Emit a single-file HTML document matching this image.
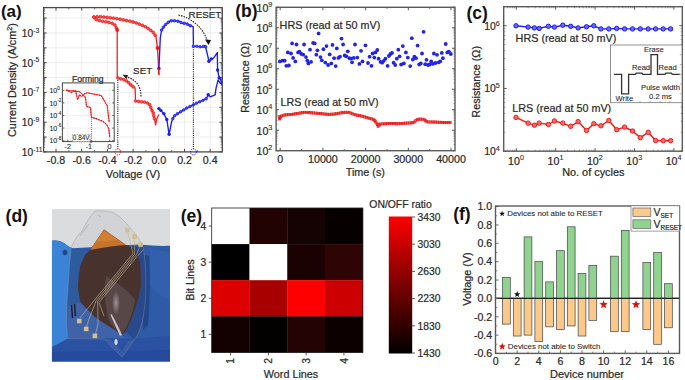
<!DOCTYPE html>
<html><head><meta charset="utf-8"><style>
html,body{margin:0;padding:0;background:#fff;}
svg{display:block;font-family:"Liberation Sans", sans-serif;}
text{stroke:#2a2a2a;stroke-width:0.22px;paint-order:stroke;}
</style></head><body>
<svg width="685" height="380" viewBox="0 0 685 380">
<rect width="685" height="380" fill="#fff"/>
<line x1="56.00" y1="7.60" x2="56.00" y2="151.90" stroke="#cfcfcf" stroke-width="0.8" stroke-dasharray="0.9,1.1"/>
<line x1="81.70" y1="7.60" x2="81.70" y2="151.90" stroke="#cfcfcf" stroke-width="0.8" stroke-dasharray="0.9,1.1"/>
<line x1="107.40" y1="7.60" x2="107.40" y2="151.90" stroke="#cfcfcf" stroke-width="0.8" stroke-dasharray="0.9,1.1"/>
<line x1="133.10" y1="7.60" x2="133.10" y2="151.90" stroke="#cfcfcf" stroke-width="0.8" stroke-dasharray="0.9,1.1"/>
<line x1="158.80" y1="7.60" x2="158.80" y2="151.90" stroke="#cfcfcf" stroke-width="0.8" stroke-dasharray="0.9,1.1"/>
<line x1="184.50" y1="7.60" x2="184.50" y2="151.90" stroke="#cfcfcf" stroke-width="0.8" stroke-dasharray="0.9,1.1"/>
<line x1="210.20" y1="7.60" x2="210.20" y2="151.90" stroke="#cfcfcf" stroke-width="0.8" stroke-dasharray="0.9,1.1"/>
<line x1="43.60" y1="137.03" x2="222.30" y2="137.03" stroke="#cfcfcf" stroke-width="0.8" stroke-dasharray="0.9,1.1"/>
<line x1="43.60" y1="122.16" x2="222.30" y2="122.16" stroke="#cfcfcf" stroke-width="0.8" stroke-dasharray="0.9,1.1"/>
<line x1="43.60" y1="107.29" x2="222.30" y2="107.29" stroke="#cfcfcf" stroke-width="0.8" stroke-dasharray="0.9,1.1"/>
<line x1="43.60" y1="92.42" x2="222.30" y2="92.42" stroke="#cfcfcf" stroke-width="0.8" stroke-dasharray="0.9,1.1"/>
<line x1="43.60" y1="77.55" x2="222.30" y2="77.55" stroke="#cfcfcf" stroke-width="0.8" stroke-dasharray="0.9,1.1"/>
<line x1="43.60" y1="62.68" x2="222.30" y2="62.68" stroke="#cfcfcf" stroke-width="0.8" stroke-dasharray="0.9,1.1"/>
<line x1="43.60" y1="47.81" x2="222.30" y2="47.81" stroke="#cfcfcf" stroke-width="0.8" stroke-dasharray="0.9,1.1"/>
<line x1="43.60" y1="32.94" x2="222.30" y2="32.94" stroke="#cfcfcf" stroke-width="0.8" stroke-dasharray="0.9,1.1"/>
<line x1="43.60" y1="18.07" x2="222.30" y2="18.07" stroke="#cfcfcf" stroke-width="0.8" stroke-dasharray="0.9,1.1"/>
<line x1="56.00" y1="151.90" x2="56.00" y2="148.90" stroke="#4a4a4a" stroke-width="1"/>
<line x1="56.00" y1="7.60" x2="56.00" y2="10.60" stroke="#4a4a4a" stroke-width="1"/>
<line x1="81.70" y1="151.90" x2="81.70" y2="148.90" stroke="#4a4a4a" stroke-width="1"/>
<line x1="81.70" y1="7.60" x2="81.70" y2="10.60" stroke="#4a4a4a" stroke-width="1"/>
<line x1="107.40" y1="151.90" x2="107.40" y2="148.90" stroke="#4a4a4a" stroke-width="1"/>
<line x1="107.40" y1="7.60" x2="107.40" y2="10.60" stroke="#4a4a4a" stroke-width="1"/>
<line x1="133.10" y1="151.90" x2="133.10" y2="148.90" stroke="#4a4a4a" stroke-width="1"/>
<line x1="133.10" y1="7.60" x2="133.10" y2="10.60" stroke="#4a4a4a" stroke-width="1"/>
<line x1="158.80" y1="151.90" x2="158.80" y2="148.90" stroke="#4a4a4a" stroke-width="1"/>
<line x1="158.80" y1="7.60" x2="158.80" y2="10.60" stroke="#4a4a4a" stroke-width="1"/>
<line x1="184.50" y1="151.90" x2="184.50" y2="148.90" stroke="#4a4a4a" stroke-width="1"/>
<line x1="184.50" y1="7.60" x2="184.50" y2="10.60" stroke="#4a4a4a" stroke-width="1"/>
<line x1="210.20" y1="151.90" x2="210.20" y2="148.90" stroke="#4a4a4a" stroke-width="1"/>
<line x1="210.20" y1="7.60" x2="210.20" y2="10.60" stroke="#4a4a4a" stroke-width="1"/>
<line x1="68.85" y1="151.90" x2="68.85" y2="150.10" stroke="#4a4a4a" stroke-width="0.8"/>
<line x1="68.85" y1="7.60" x2="68.85" y2="9.40" stroke="#4a4a4a" stroke-width="0.8"/>
<line x1="94.55" y1="151.90" x2="94.55" y2="150.10" stroke="#4a4a4a" stroke-width="0.8"/>
<line x1="94.55" y1="7.60" x2="94.55" y2="9.40" stroke="#4a4a4a" stroke-width="0.8"/>
<line x1="120.25" y1="151.90" x2="120.25" y2="150.10" stroke="#4a4a4a" stroke-width="0.8"/>
<line x1="120.25" y1="7.60" x2="120.25" y2="9.40" stroke="#4a4a4a" stroke-width="0.8"/>
<line x1="145.95" y1="151.90" x2="145.95" y2="150.10" stroke="#4a4a4a" stroke-width="0.8"/>
<line x1="145.95" y1="7.60" x2="145.95" y2="9.40" stroke="#4a4a4a" stroke-width="0.8"/>
<line x1="171.65" y1="151.90" x2="171.65" y2="150.10" stroke="#4a4a4a" stroke-width="0.8"/>
<line x1="171.65" y1="7.60" x2="171.65" y2="9.40" stroke="#4a4a4a" stroke-width="0.8"/>
<line x1="197.35" y1="151.90" x2="197.35" y2="150.10" stroke="#4a4a4a" stroke-width="0.8"/>
<line x1="197.35" y1="7.60" x2="197.35" y2="9.40" stroke="#4a4a4a" stroke-width="0.8"/>
<line x1="43.60" y1="151.90" x2="46.60" y2="151.90" stroke="#4a4a4a" stroke-width="1"/>
<line x1="222.30" y1="151.90" x2="219.30" y2="151.90" stroke="#4a4a4a" stroke-width="1"/>
<line x1="43.60" y1="147.42" x2="45.20" y2="147.42" stroke="#4a4a4a" stroke-width="0.6"/>
<line x1="222.30" y1="147.42" x2="220.70" y2="147.42" stroke="#4a4a4a" stroke-width="0.6"/>
<line x1="43.60" y1="144.81" x2="45.20" y2="144.81" stroke="#4a4a4a" stroke-width="0.6"/>
<line x1="222.30" y1="144.81" x2="220.70" y2="144.81" stroke="#4a4a4a" stroke-width="0.6"/>
<line x1="43.60" y1="142.95" x2="45.20" y2="142.95" stroke="#4a4a4a" stroke-width="0.6"/>
<line x1="222.30" y1="142.95" x2="220.70" y2="142.95" stroke="#4a4a4a" stroke-width="0.6"/>
<line x1="43.60" y1="141.51" x2="45.20" y2="141.51" stroke="#4a4a4a" stroke-width="0.6"/>
<line x1="222.30" y1="141.51" x2="220.70" y2="141.51" stroke="#4a4a4a" stroke-width="0.6"/>
<line x1="43.60" y1="140.33" x2="45.20" y2="140.33" stroke="#4a4a4a" stroke-width="0.6"/>
<line x1="222.30" y1="140.33" x2="220.70" y2="140.33" stroke="#4a4a4a" stroke-width="0.6"/>
<line x1="43.60" y1="139.33" x2="45.20" y2="139.33" stroke="#4a4a4a" stroke-width="0.6"/>
<line x1="222.30" y1="139.33" x2="220.70" y2="139.33" stroke="#4a4a4a" stroke-width="0.6"/>
<line x1="43.60" y1="138.47" x2="45.20" y2="138.47" stroke="#4a4a4a" stroke-width="0.6"/>
<line x1="222.30" y1="138.47" x2="220.70" y2="138.47" stroke="#4a4a4a" stroke-width="0.6"/>
<line x1="43.60" y1="137.71" x2="45.20" y2="137.71" stroke="#4a4a4a" stroke-width="0.6"/>
<line x1="222.30" y1="137.71" x2="220.70" y2="137.71" stroke="#4a4a4a" stroke-width="0.6"/>
<line x1="43.60" y1="137.03" x2="46.60" y2="137.03" stroke="#4a4a4a" stroke-width="1"/>
<line x1="222.30" y1="137.03" x2="219.30" y2="137.03" stroke="#4a4a4a" stroke-width="1"/>
<line x1="43.60" y1="132.55" x2="45.20" y2="132.55" stroke="#4a4a4a" stroke-width="0.6"/>
<line x1="222.30" y1="132.55" x2="220.70" y2="132.55" stroke="#4a4a4a" stroke-width="0.6"/>
<line x1="43.60" y1="129.94" x2="45.20" y2="129.94" stroke="#4a4a4a" stroke-width="0.6"/>
<line x1="222.30" y1="129.94" x2="220.70" y2="129.94" stroke="#4a4a4a" stroke-width="0.6"/>
<line x1="43.60" y1="128.08" x2="45.20" y2="128.08" stroke="#4a4a4a" stroke-width="0.6"/>
<line x1="222.30" y1="128.08" x2="220.70" y2="128.08" stroke="#4a4a4a" stroke-width="0.6"/>
<line x1="43.60" y1="126.64" x2="45.20" y2="126.64" stroke="#4a4a4a" stroke-width="0.6"/>
<line x1="222.30" y1="126.64" x2="220.70" y2="126.64" stroke="#4a4a4a" stroke-width="0.6"/>
<line x1="43.60" y1="125.46" x2="45.20" y2="125.46" stroke="#4a4a4a" stroke-width="0.6"/>
<line x1="222.30" y1="125.46" x2="220.70" y2="125.46" stroke="#4a4a4a" stroke-width="0.6"/>
<line x1="43.60" y1="124.46" x2="45.20" y2="124.46" stroke="#4a4a4a" stroke-width="0.6"/>
<line x1="222.30" y1="124.46" x2="220.70" y2="124.46" stroke="#4a4a4a" stroke-width="0.6"/>
<line x1="43.60" y1="123.60" x2="45.20" y2="123.60" stroke="#4a4a4a" stroke-width="0.6"/>
<line x1="222.30" y1="123.60" x2="220.70" y2="123.60" stroke="#4a4a4a" stroke-width="0.6"/>
<line x1="43.60" y1="122.84" x2="45.20" y2="122.84" stroke="#4a4a4a" stroke-width="0.6"/>
<line x1="222.30" y1="122.84" x2="220.70" y2="122.84" stroke="#4a4a4a" stroke-width="0.6"/>
<line x1="43.60" y1="122.16" x2="46.60" y2="122.16" stroke="#4a4a4a" stroke-width="1"/>
<line x1="222.30" y1="122.16" x2="219.30" y2="122.16" stroke="#4a4a4a" stroke-width="1"/>
<line x1="43.60" y1="117.68" x2="45.20" y2="117.68" stroke="#4a4a4a" stroke-width="0.6"/>
<line x1="222.30" y1="117.68" x2="220.70" y2="117.68" stroke="#4a4a4a" stroke-width="0.6"/>
<line x1="43.60" y1="115.07" x2="45.20" y2="115.07" stroke="#4a4a4a" stroke-width="0.6"/>
<line x1="222.30" y1="115.07" x2="220.70" y2="115.07" stroke="#4a4a4a" stroke-width="0.6"/>
<line x1="43.60" y1="113.21" x2="45.20" y2="113.21" stroke="#4a4a4a" stroke-width="0.6"/>
<line x1="222.30" y1="113.21" x2="220.70" y2="113.21" stroke="#4a4a4a" stroke-width="0.6"/>
<line x1="43.60" y1="111.77" x2="45.20" y2="111.77" stroke="#4a4a4a" stroke-width="0.6"/>
<line x1="222.30" y1="111.77" x2="220.70" y2="111.77" stroke="#4a4a4a" stroke-width="0.6"/>
<line x1="43.60" y1="110.59" x2="45.20" y2="110.59" stroke="#4a4a4a" stroke-width="0.6"/>
<line x1="222.30" y1="110.59" x2="220.70" y2="110.59" stroke="#4a4a4a" stroke-width="0.6"/>
<line x1="43.60" y1="109.59" x2="45.20" y2="109.59" stroke="#4a4a4a" stroke-width="0.6"/>
<line x1="222.30" y1="109.59" x2="220.70" y2="109.59" stroke="#4a4a4a" stroke-width="0.6"/>
<line x1="43.60" y1="108.73" x2="45.20" y2="108.73" stroke="#4a4a4a" stroke-width="0.6"/>
<line x1="222.30" y1="108.73" x2="220.70" y2="108.73" stroke="#4a4a4a" stroke-width="0.6"/>
<line x1="43.60" y1="107.97" x2="45.20" y2="107.97" stroke="#4a4a4a" stroke-width="0.6"/>
<line x1="222.30" y1="107.97" x2="220.70" y2="107.97" stroke="#4a4a4a" stroke-width="0.6"/>
<line x1="43.60" y1="107.29" x2="46.60" y2="107.29" stroke="#4a4a4a" stroke-width="1"/>
<line x1="222.30" y1="107.29" x2="219.30" y2="107.29" stroke="#4a4a4a" stroke-width="1"/>
<line x1="43.60" y1="102.81" x2="45.20" y2="102.81" stroke="#4a4a4a" stroke-width="0.6"/>
<line x1="222.30" y1="102.81" x2="220.70" y2="102.81" stroke="#4a4a4a" stroke-width="0.6"/>
<line x1="43.60" y1="100.20" x2="45.20" y2="100.20" stroke="#4a4a4a" stroke-width="0.6"/>
<line x1="222.30" y1="100.20" x2="220.70" y2="100.20" stroke="#4a4a4a" stroke-width="0.6"/>
<line x1="43.60" y1="98.34" x2="45.20" y2="98.34" stroke="#4a4a4a" stroke-width="0.6"/>
<line x1="222.30" y1="98.34" x2="220.70" y2="98.34" stroke="#4a4a4a" stroke-width="0.6"/>
<line x1="43.60" y1="96.90" x2="45.20" y2="96.90" stroke="#4a4a4a" stroke-width="0.6"/>
<line x1="222.30" y1="96.90" x2="220.70" y2="96.90" stroke="#4a4a4a" stroke-width="0.6"/>
<line x1="43.60" y1="95.72" x2="45.20" y2="95.72" stroke="#4a4a4a" stroke-width="0.6"/>
<line x1="222.30" y1="95.72" x2="220.70" y2="95.72" stroke="#4a4a4a" stroke-width="0.6"/>
<line x1="43.60" y1="94.72" x2="45.20" y2="94.72" stroke="#4a4a4a" stroke-width="0.6"/>
<line x1="222.30" y1="94.72" x2="220.70" y2="94.72" stroke="#4a4a4a" stroke-width="0.6"/>
<line x1="43.60" y1="93.86" x2="45.20" y2="93.86" stroke="#4a4a4a" stroke-width="0.6"/>
<line x1="222.30" y1="93.86" x2="220.70" y2="93.86" stroke="#4a4a4a" stroke-width="0.6"/>
<line x1="43.60" y1="93.10" x2="45.20" y2="93.10" stroke="#4a4a4a" stroke-width="0.6"/>
<line x1="222.30" y1="93.10" x2="220.70" y2="93.10" stroke="#4a4a4a" stroke-width="0.6"/>
<line x1="43.60" y1="92.42" x2="46.60" y2="92.42" stroke="#4a4a4a" stroke-width="1"/>
<line x1="222.30" y1="92.42" x2="219.30" y2="92.42" stroke="#4a4a4a" stroke-width="1"/>
<line x1="43.60" y1="87.94" x2="45.20" y2="87.94" stroke="#4a4a4a" stroke-width="0.6"/>
<line x1="222.30" y1="87.94" x2="220.70" y2="87.94" stroke="#4a4a4a" stroke-width="0.6"/>
<line x1="43.60" y1="85.33" x2="45.20" y2="85.33" stroke="#4a4a4a" stroke-width="0.6"/>
<line x1="222.30" y1="85.33" x2="220.70" y2="85.33" stroke="#4a4a4a" stroke-width="0.6"/>
<line x1="43.60" y1="83.47" x2="45.20" y2="83.47" stroke="#4a4a4a" stroke-width="0.6"/>
<line x1="222.30" y1="83.47" x2="220.70" y2="83.47" stroke="#4a4a4a" stroke-width="0.6"/>
<line x1="43.60" y1="82.03" x2="45.20" y2="82.03" stroke="#4a4a4a" stroke-width="0.6"/>
<line x1="222.30" y1="82.03" x2="220.70" y2="82.03" stroke="#4a4a4a" stroke-width="0.6"/>
<line x1="43.60" y1="80.85" x2="45.20" y2="80.85" stroke="#4a4a4a" stroke-width="0.6"/>
<line x1="222.30" y1="80.85" x2="220.70" y2="80.85" stroke="#4a4a4a" stroke-width="0.6"/>
<line x1="43.60" y1="79.85" x2="45.20" y2="79.85" stroke="#4a4a4a" stroke-width="0.6"/>
<line x1="222.30" y1="79.85" x2="220.70" y2="79.85" stroke="#4a4a4a" stroke-width="0.6"/>
<line x1="43.60" y1="78.99" x2="45.20" y2="78.99" stroke="#4a4a4a" stroke-width="0.6"/>
<line x1="222.30" y1="78.99" x2="220.70" y2="78.99" stroke="#4a4a4a" stroke-width="0.6"/>
<line x1="43.60" y1="78.23" x2="45.20" y2="78.23" stroke="#4a4a4a" stroke-width="0.6"/>
<line x1="222.30" y1="78.23" x2="220.70" y2="78.23" stroke="#4a4a4a" stroke-width="0.6"/>
<line x1="43.60" y1="77.55" x2="46.60" y2="77.55" stroke="#4a4a4a" stroke-width="1"/>
<line x1="222.30" y1="77.55" x2="219.30" y2="77.55" stroke="#4a4a4a" stroke-width="1"/>
<line x1="43.60" y1="73.07" x2="45.20" y2="73.07" stroke="#4a4a4a" stroke-width="0.6"/>
<line x1="222.30" y1="73.07" x2="220.70" y2="73.07" stroke="#4a4a4a" stroke-width="0.6"/>
<line x1="43.60" y1="70.46" x2="45.20" y2="70.46" stroke="#4a4a4a" stroke-width="0.6"/>
<line x1="222.30" y1="70.46" x2="220.70" y2="70.46" stroke="#4a4a4a" stroke-width="0.6"/>
<line x1="43.60" y1="68.60" x2="45.20" y2="68.60" stroke="#4a4a4a" stroke-width="0.6"/>
<line x1="222.30" y1="68.60" x2="220.70" y2="68.60" stroke="#4a4a4a" stroke-width="0.6"/>
<line x1="43.60" y1="67.16" x2="45.20" y2="67.16" stroke="#4a4a4a" stroke-width="0.6"/>
<line x1="222.30" y1="67.16" x2="220.70" y2="67.16" stroke="#4a4a4a" stroke-width="0.6"/>
<line x1="43.60" y1="65.98" x2="45.20" y2="65.98" stroke="#4a4a4a" stroke-width="0.6"/>
<line x1="222.30" y1="65.98" x2="220.70" y2="65.98" stroke="#4a4a4a" stroke-width="0.6"/>
<line x1="43.60" y1="64.98" x2="45.20" y2="64.98" stroke="#4a4a4a" stroke-width="0.6"/>
<line x1="222.30" y1="64.98" x2="220.70" y2="64.98" stroke="#4a4a4a" stroke-width="0.6"/>
<line x1="43.60" y1="64.12" x2="45.20" y2="64.12" stroke="#4a4a4a" stroke-width="0.6"/>
<line x1="222.30" y1="64.12" x2="220.70" y2="64.12" stroke="#4a4a4a" stroke-width="0.6"/>
<line x1="43.60" y1="63.36" x2="45.20" y2="63.36" stroke="#4a4a4a" stroke-width="0.6"/>
<line x1="222.30" y1="63.36" x2="220.70" y2="63.36" stroke="#4a4a4a" stroke-width="0.6"/>
<line x1="43.60" y1="62.68" x2="46.60" y2="62.68" stroke="#4a4a4a" stroke-width="1"/>
<line x1="222.30" y1="62.68" x2="219.30" y2="62.68" stroke="#4a4a4a" stroke-width="1"/>
<line x1="43.60" y1="58.20" x2="45.20" y2="58.20" stroke="#4a4a4a" stroke-width="0.6"/>
<line x1="222.30" y1="58.20" x2="220.70" y2="58.20" stroke="#4a4a4a" stroke-width="0.6"/>
<line x1="43.60" y1="55.59" x2="45.20" y2="55.59" stroke="#4a4a4a" stroke-width="0.6"/>
<line x1="222.30" y1="55.59" x2="220.70" y2="55.59" stroke="#4a4a4a" stroke-width="0.6"/>
<line x1="43.60" y1="53.73" x2="45.20" y2="53.73" stroke="#4a4a4a" stroke-width="0.6"/>
<line x1="222.30" y1="53.73" x2="220.70" y2="53.73" stroke="#4a4a4a" stroke-width="0.6"/>
<line x1="43.60" y1="52.29" x2="45.20" y2="52.29" stroke="#4a4a4a" stroke-width="0.6"/>
<line x1="222.30" y1="52.29" x2="220.70" y2="52.29" stroke="#4a4a4a" stroke-width="0.6"/>
<line x1="43.60" y1="51.11" x2="45.20" y2="51.11" stroke="#4a4a4a" stroke-width="0.6"/>
<line x1="222.30" y1="51.11" x2="220.70" y2="51.11" stroke="#4a4a4a" stroke-width="0.6"/>
<line x1="43.60" y1="50.11" x2="45.20" y2="50.11" stroke="#4a4a4a" stroke-width="0.6"/>
<line x1="222.30" y1="50.11" x2="220.70" y2="50.11" stroke="#4a4a4a" stroke-width="0.6"/>
<line x1="43.60" y1="49.25" x2="45.20" y2="49.25" stroke="#4a4a4a" stroke-width="0.6"/>
<line x1="222.30" y1="49.25" x2="220.70" y2="49.25" stroke="#4a4a4a" stroke-width="0.6"/>
<line x1="43.60" y1="48.49" x2="45.20" y2="48.49" stroke="#4a4a4a" stroke-width="0.6"/>
<line x1="222.30" y1="48.49" x2="220.70" y2="48.49" stroke="#4a4a4a" stroke-width="0.6"/>
<line x1="43.60" y1="47.81" x2="46.60" y2="47.81" stroke="#4a4a4a" stroke-width="1"/>
<line x1="222.30" y1="47.81" x2="219.30" y2="47.81" stroke="#4a4a4a" stroke-width="1"/>
<line x1="43.60" y1="43.33" x2="45.20" y2="43.33" stroke="#4a4a4a" stroke-width="0.6"/>
<line x1="222.30" y1="43.33" x2="220.70" y2="43.33" stroke="#4a4a4a" stroke-width="0.6"/>
<line x1="43.60" y1="40.72" x2="45.20" y2="40.72" stroke="#4a4a4a" stroke-width="0.6"/>
<line x1="222.30" y1="40.72" x2="220.70" y2="40.72" stroke="#4a4a4a" stroke-width="0.6"/>
<line x1="43.60" y1="38.86" x2="45.20" y2="38.86" stroke="#4a4a4a" stroke-width="0.6"/>
<line x1="222.30" y1="38.86" x2="220.70" y2="38.86" stroke="#4a4a4a" stroke-width="0.6"/>
<line x1="43.60" y1="37.42" x2="45.20" y2="37.42" stroke="#4a4a4a" stroke-width="0.6"/>
<line x1="222.30" y1="37.42" x2="220.70" y2="37.42" stroke="#4a4a4a" stroke-width="0.6"/>
<line x1="43.60" y1="36.24" x2="45.20" y2="36.24" stroke="#4a4a4a" stroke-width="0.6"/>
<line x1="222.30" y1="36.24" x2="220.70" y2="36.24" stroke="#4a4a4a" stroke-width="0.6"/>
<line x1="43.60" y1="35.24" x2="45.20" y2="35.24" stroke="#4a4a4a" stroke-width="0.6"/>
<line x1="222.30" y1="35.24" x2="220.70" y2="35.24" stroke="#4a4a4a" stroke-width="0.6"/>
<line x1="43.60" y1="34.38" x2="45.20" y2="34.38" stroke="#4a4a4a" stroke-width="0.6"/>
<line x1="222.30" y1="34.38" x2="220.70" y2="34.38" stroke="#4a4a4a" stroke-width="0.6"/>
<line x1="43.60" y1="33.62" x2="45.20" y2="33.62" stroke="#4a4a4a" stroke-width="0.6"/>
<line x1="222.30" y1="33.62" x2="220.70" y2="33.62" stroke="#4a4a4a" stroke-width="0.6"/>
<line x1="43.60" y1="32.94" x2="46.60" y2="32.94" stroke="#4a4a4a" stroke-width="1"/>
<line x1="222.30" y1="32.94" x2="219.30" y2="32.94" stroke="#4a4a4a" stroke-width="1"/>
<line x1="43.60" y1="28.46" x2="45.20" y2="28.46" stroke="#4a4a4a" stroke-width="0.6"/>
<line x1="222.30" y1="28.46" x2="220.70" y2="28.46" stroke="#4a4a4a" stroke-width="0.6"/>
<line x1="43.60" y1="25.85" x2="45.20" y2="25.85" stroke="#4a4a4a" stroke-width="0.6"/>
<line x1="222.30" y1="25.85" x2="220.70" y2="25.85" stroke="#4a4a4a" stroke-width="0.6"/>
<line x1="43.60" y1="23.99" x2="45.20" y2="23.99" stroke="#4a4a4a" stroke-width="0.6"/>
<line x1="222.30" y1="23.99" x2="220.70" y2="23.99" stroke="#4a4a4a" stroke-width="0.6"/>
<line x1="43.60" y1="22.55" x2="45.20" y2="22.55" stroke="#4a4a4a" stroke-width="0.6"/>
<line x1="222.30" y1="22.55" x2="220.70" y2="22.55" stroke="#4a4a4a" stroke-width="0.6"/>
<line x1="43.60" y1="21.37" x2="45.20" y2="21.37" stroke="#4a4a4a" stroke-width="0.6"/>
<line x1="222.30" y1="21.37" x2="220.70" y2="21.37" stroke="#4a4a4a" stroke-width="0.6"/>
<line x1="43.60" y1="20.37" x2="45.20" y2="20.37" stroke="#4a4a4a" stroke-width="0.6"/>
<line x1="222.30" y1="20.37" x2="220.70" y2="20.37" stroke="#4a4a4a" stroke-width="0.6"/>
<line x1="43.60" y1="19.51" x2="45.20" y2="19.51" stroke="#4a4a4a" stroke-width="0.6"/>
<line x1="222.30" y1="19.51" x2="220.70" y2="19.51" stroke="#4a4a4a" stroke-width="0.6"/>
<line x1="43.60" y1="18.75" x2="45.20" y2="18.75" stroke="#4a4a4a" stroke-width="0.6"/>
<line x1="222.30" y1="18.75" x2="220.70" y2="18.75" stroke="#4a4a4a" stroke-width="0.6"/>
<line x1="43.60" y1="18.07" x2="46.60" y2="18.07" stroke="#4a4a4a" stroke-width="1"/>
<line x1="222.30" y1="18.07" x2="219.30" y2="18.07" stroke="#4a4a4a" stroke-width="1"/>
<line x1="43.60" y1="13.59" x2="45.20" y2="13.59" stroke="#4a4a4a" stroke-width="0.6"/>
<line x1="222.30" y1="13.59" x2="220.70" y2="13.59" stroke="#4a4a4a" stroke-width="0.6"/>
<line x1="43.60" y1="10.98" x2="45.20" y2="10.98" stroke="#4a4a4a" stroke-width="0.6"/>
<line x1="222.30" y1="10.98" x2="220.70" y2="10.98" stroke="#4a4a4a" stroke-width="0.6"/>
<line x1="43.60" y1="9.12" x2="45.20" y2="9.12" stroke="#4a4a4a" stroke-width="0.6"/>
<line x1="222.30" y1="9.12" x2="220.70" y2="9.12" stroke="#4a4a4a" stroke-width="0.6"/>
<rect x="43.60" y="7.60" width="178.70" height="144.30" fill="none" stroke="#4a4a4a" stroke-width="1.3"/>
<text x="56.00" y="163.50" font-size="10.6" text-anchor="middle" fill="#2a2a2a">-0.8</text>
<text x="81.70" y="163.50" font-size="10.6" text-anchor="middle" fill="#2a2a2a">-0.6</text>
<text x="107.40" y="163.50" font-size="10.6" text-anchor="middle" fill="#2a2a2a">-0.4</text>
<text x="133.10" y="163.50" font-size="10.6" text-anchor="middle" fill="#2a2a2a">-0.2</text>
<text x="158.80" y="163.50" font-size="10.6" text-anchor="middle" fill="#2a2a2a">0.0</text>
<text x="184.50" y="163.50" font-size="10.6" text-anchor="middle" fill="#2a2a2a">0.2</text>
<text x="210.20" y="163.50" font-size="10.6" text-anchor="middle" fill="#2a2a2a">0.4</text>
<text x="33.20" y="36.84" font-size="10.2" text-anchor="end" fill="#2a2a2a">10</text>
<text x="33.20" y="32.64" font-size="6.8" text-anchor="start" fill="#2a2a2a" style="stroke-width:0.1px">-3</text>
<text x="33.20" y="66.58" font-size="10.2" text-anchor="end" fill="#2a2a2a">10</text>
<text x="33.20" y="62.38" font-size="6.8" text-anchor="start" fill="#2a2a2a" style="stroke-width:0.1px">-5</text>
<text x="33.20" y="96.32" font-size="10.2" text-anchor="end" fill="#2a2a2a">10</text>
<text x="33.20" y="92.12" font-size="6.8" text-anchor="start" fill="#2a2a2a" style="stroke-width:0.1px">-7</text>
<text x="33.20" y="126.06" font-size="10.2" text-anchor="end" fill="#2a2a2a">10</text>
<text x="33.20" y="121.86" font-size="6.8" text-anchor="start" fill="#2a2a2a" style="stroke-width:0.1px">-9</text>
<text x="33.20" y="155.80" font-size="10.2" text-anchor="end" fill="#2a2a2a">10</text>
<text x="33.20" y="151.60" font-size="6.8" text-anchor="start" fill="#2a2a2a" style="stroke-width:0.1px">-11</text>
<text x="133.00" y="177.80" font-size="11" text-anchor="middle" fill="#2a2a2a">Voltage (V)</text>
<text x="16.30" y="80.00" font-size="10.8" text-anchor="middle" fill="#2a2a2a" transform="rotate(-90 16.30 80.00)">Current Density (A/cm<tspan dy="-4" font-size="7.3">2</tspan><tspan dy="4">)</tspan></text>
<text x="0.90" y="17.30" font-size="17" text-anchor="start" fill="#111" font-weight="bold" style="stroke-width:0px">(a)</text>
<polyline points="93.90,17.10 98.20,16.60 104.70,17.10 111.30,17.90 117.90,18.80 124.50,20.10 131.00,21.40 137.60,23.40 144.20,26.10 149.50,29.30 153.40,32.60 156.00,36.60 157.40,47.80 158.20,60.00 158.80,75.00" fill="none" stroke="#f01818" stroke-width="1.25" stroke-linejoin="round"/>
<polyline points="93.90,17.10 96.20,19.50 100.80,21.00 107.40,22.10 112.60,23.40 115.30,25.40 117.20,30.00 117.20,78.00" fill="none" stroke="#f01818" stroke-width="1.25" stroke-linejoin="round"/>
<polyline points="117.20,78.00 118.00,78.00 120.50,78.80 124.00,79.70 127.40,81.40 129.90,84.00 132.50,86.50 134.20,87.40 135.10,88.00 135.50,101.00 139.30,101.60 143.60,101.90 147.00,102.80 149.60,104.50 151.30,108.80 153.00,112.20 154.70,119.90 155.60,125.00 156.90,118.50 158.90,114.50" fill="none" stroke="#f01818" stroke-width="1.25" stroke-linejoin="round"/>
<circle cx="93.90" cy="17.10" r="1.4" fill="#ff5a5a" stroke="#f01818" stroke-width="0.8"/>
<circle cx="97.18" cy="16.72" r="1.4" fill="#ff5a5a" stroke="#f01818" stroke-width="0.8"/>
<circle cx="100.46" cy="16.77" r="1.4" fill="#ff5a5a" stroke="#f01818" stroke-width="0.8"/>
<circle cx="103.75" cy="17.03" r="1.4" fill="#ff5a5a" stroke="#f01818" stroke-width="0.8"/>
<circle cx="107.03" cy="17.38" r="1.4" fill="#ff5a5a" stroke="#f01818" stroke-width="0.8"/>
<circle cx="110.31" cy="17.78" r="1.4" fill="#ff5a5a" stroke="#f01818" stroke-width="0.8"/>
<circle cx="113.58" cy="18.21" r="1.4" fill="#ff5a5a" stroke="#f01818" stroke-width="0.8"/>
<circle cx="116.85" cy="18.66" r="1.4" fill="#ff5a5a" stroke="#f01818" stroke-width="0.8"/>
<circle cx="120.10" cy="19.23" r="1.4" fill="#ff5a5a" stroke="#f01818" stroke-width="0.8"/>
<circle cx="123.34" cy="19.87" r="1.4" fill="#ff5a5a" stroke="#f01818" stroke-width="0.8"/>
<circle cx="126.57" cy="20.51" r="1.4" fill="#ff5a5a" stroke="#f01818" stroke-width="0.8"/>
<circle cx="129.81" cy="21.16" r="1.4" fill="#ff5a5a" stroke="#f01818" stroke-width="0.8"/>
<circle cx="133.00" cy="22.01" r="1.4" fill="#ff5a5a" stroke="#f01818" stroke-width="0.8"/>
<circle cx="136.16" cy="22.96" r="1.4" fill="#ff5a5a" stroke="#f01818" stroke-width="0.8"/>
<circle cx="139.26" cy="24.08" r="1.4" fill="#ff5a5a" stroke="#f01818" stroke-width="0.8"/>
<circle cx="142.31" cy="25.33" r="1.4" fill="#ff5a5a" stroke="#f01818" stroke-width="0.8"/>
<circle cx="145.28" cy="26.75" r="1.4" fill="#ff5a5a" stroke="#f01818" stroke-width="0.8"/>
<circle cx="148.10" cy="28.46" r="1.4" fill="#ff5a5a" stroke="#f01818" stroke-width="0.8"/>
<circle cx="150.77" cy="30.38" r="1.4" fill="#ff5a5a" stroke="#f01818" stroke-width="0.8"/>
<circle cx="153.29" cy="32.51" r="1.4" fill="#ff5a5a" stroke="#f01818" stroke-width="0.8"/>
<circle cx="155.12" cy="35.25" r="1.4" fill="#ff5a5a" stroke="#f01818" stroke-width="0.8"/>
<circle cx="93.90" cy="17.10" r="1.4" fill="#ff5a5a" stroke="#f01818" stroke-width="0.8"/>
<circle cx="96.18" cy="19.48" r="1.4" fill="#ff5a5a" stroke="#f01818" stroke-width="0.8"/>
<circle cx="99.31" cy="20.52" r="1.4" fill="#ff5a5a" stroke="#f01818" stroke-width="0.8"/>
<circle cx="102.51" cy="21.29" r="1.4" fill="#ff5a5a" stroke="#f01818" stroke-width="0.8"/>
<circle cx="105.77" cy="21.83" r="1.4" fill="#ff5a5a" stroke="#f01818" stroke-width="0.8"/>
<circle cx="109.00" cy="22.50" r="1.4" fill="#ff5a5a" stroke="#f01818" stroke-width="0.8"/>
<circle cx="112.20" cy="23.30" r="1.4" fill="#ff5a5a" stroke="#f01818" stroke-width="0.8"/>
<circle cx="114.92" cy="25.12" r="1.4" fill="#ff5a5a" stroke="#f01818" stroke-width="0.8"/>
<circle cx="116.38" cy="28.01" r="1.4" fill="#ff5a5a" stroke="#f01818" stroke-width="0.8"/>
<circle cx="118.00" cy="78.00" r="1.35" fill="#ff5a5a" stroke="#f01818" stroke-width="0.8"/>
<circle cx="120.86" cy="78.89" r="1.35" fill="#ff5a5a" stroke="#f01818" stroke-width="0.8"/>
<circle cx="123.77" cy="79.64" r="1.35" fill="#ff5a5a" stroke="#f01818" stroke-width="0.8"/>
<circle cx="126.47" cy="80.93" r="1.35" fill="#ff5a5a" stroke="#f01818" stroke-width="0.8"/>
<circle cx="128.76" cy="82.81" r="1.35" fill="#ff5a5a" stroke="#f01818" stroke-width="0.8"/>
<circle cx="130.88" cy="84.94" r="1.35" fill="#ff5a5a" stroke="#f01818" stroke-width="0.8"/>
<circle cx="133.16" cy="86.85" r="1.35" fill="#ff5a5a" stroke="#f01818" stroke-width="0.8"/>
<circle cx="135.50" cy="101.00" r="1.35" fill="#ff5a5a" stroke="#f01818" stroke-width="0.8"/>
<circle cx="138.46" cy="101.47" r="1.35" fill="#ff5a5a" stroke="#f01818" stroke-width="0.8"/>
<circle cx="141.45" cy="101.75" r="1.35" fill="#ff5a5a" stroke="#f01818" stroke-width="0.8"/>
<circle cx="144.41" cy="102.12" r="1.35" fill="#ff5a5a" stroke="#f01818" stroke-width="0.8"/>
<circle cx="147.27" cy="102.98" r="1.35" fill="#ff5a5a" stroke="#f01818" stroke-width="0.8"/>
<circle cx="149.68" cy="104.70" r="1.35" fill="#ff5a5a" stroke="#f01818" stroke-width="0.8"/>
<circle cx="150.78" cy="107.49" r="1.35" fill="#ff5a5a" stroke="#f01818" stroke-width="0.8"/>
<circle cx="152.01" cy="110.23" r="1.35" fill="#ff5a5a" stroke="#f01818" stroke-width="0.8"/>
<circle cx="153.17" cy="112.98" r="1.35" fill="#ff5a5a" stroke="#f01818" stroke-width="0.8"/>
<circle cx="153.82" cy="115.90" r="1.35" fill="#ff5a5a" stroke="#f01818" stroke-width="0.8"/>
<circle cx="154.46" cy="118.83" r="1.35" fill="#ff5a5a" stroke="#f01818" stroke-width="0.8"/>
<circle cx="157.60" cy="48.00" r="1.9" fill="#f01818" stroke="none" stroke-width="0.8"/>
<circle cx="117.20" cy="30.00" r="1.9" fill="#f01818" stroke="none" stroke-width="0.8"/>
<polyline points="158.90,68.50 159.30,60.00 160.30,37.90 161.60,30.00 164.20,26.00 166.80,23.40 169.50,21.40 172.10,20.50 176.00,21.00 179.30,21.40 182.60,23.40 185.90,23.20 188.60,25.00 191.20,26.00 193.20,26.70 193.40,46.30 197.90,46.30 201.80,47.10 205.30,45.50 206.20,49.50 208.10,57.40 208.90,61.30 211.30,58.90 213.60,58.10 217.30,52.60 217.60,70.00 219.20,77.90 220.70,79.40 221.50,84.20 220.00,83.00 218.10,80.00 217.10,83.90 216.10,87.90 215.10,94.80 210.20,96.80 208.20,94.80 206.20,98.70 202.30,100.70 197.40,102.70 192.40,105.30 187.50,107.60 182.60,110.60 177.60,113.60 173.70,116.50 171.70,121.40 169.10,134.30 166.80,119.50 163.80,113.60 160.90,110.60 158.90,108.60" fill="none" stroke="#1a1aff" stroke-width="1.35" stroke-linejoin="round"/>
<circle cx="161.60" cy="30.00" r="1.2999999999999998" fill="#5050ff" stroke="#1a1aff" stroke-width="0.8"/>
<circle cx="163.45" cy="27.15" r="1.2999999999999998" fill="#5050ff" stroke="#1a1aff" stroke-width="0.8"/>
<circle cx="165.63" cy="24.57" r="1.2999999999999998" fill="#5050ff" stroke="#1a1aff" stroke-width="0.8"/>
<circle cx="168.21" cy="22.36" r="1.2999999999999998" fill="#5050ff" stroke="#1a1aff" stroke-width="0.8"/>
<circle cx="171.19" cy="20.81" r="1.2999999999999998" fill="#5050ff" stroke="#1a1aff" stroke-width="0.8"/>
<circle cx="174.52" cy="20.81" r="1.2999999999999998" fill="#5050ff" stroke="#1a1aff" stroke-width="0.8"/>
<circle cx="177.90" cy="21.23" r="1.2999999999999998" fill="#5050ff" stroke="#1a1aff" stroke-width="0.8"/>
<circle cx="181.00" cy="22.43" r="1.2999999999999998" fill="#5050ff" stroke="#1a1aff" stroke-width="0.8"/>
<circle cx="184.12" cy="23.31" r="1.2999999999999998" fill="#5050ff" stroke="#1a1aff" stroke-width="0.8"/>
<circle cx="187.25" cy="24.10" r="1.2999999999999998" fill="#5050ff" stroke="#1a1aff" stroke-width="0.8"/>
<circle cx="190.26" cy="25.64" r="1.2999999999999998" fill="#5050ff" stroke="#1a1aff" stroke-width="0.8"/>
<circle cx="193.40" cy="46.30" r="1.25" fill="#5050ff" stroke="#1a1aff" stroke-width="0.8"/>
<circle cx="196.80" cy="46.30" r="1.25" fill="#5050ff" stroke="#1a1aff" stroke-width="0.8"/>
<circle cx="200.15" cy="46.76" r="1.25" fill="#5050ff" stroke="#1a1aff" stroke-width="0.8"/>
<circle cx="203.36" cy="46.39" r="1.25" fill="#5050ff" stroke="#1a1aff" stroke-width="0.8"/>
<circle cx="205.58" cy="46.74" r="1.25" fill="#5050ff" stroke="#1a1aff" stroke-width="0.8"/>
<circle cx="206.20" cy="98.70" r="1.25" fill="#5050ff" stroke="#1a1aff" stroke-width="0.8"/>
<circle cx="203.00" cy="100.34" r="1.25" fill="#5050ff" stroke="#1a1aff" stroke-width="0.8"/>
<circle cx="199.69" cy="101.76" r="1.25" fill="#5050ff" stroke="#1a1aff" stroke-width="0.8"/>
<circle cx="196.40" cy="103.22" r="1.25" fill="#5050ff" stroke="#1a1aff" stroke-width="0.8"/>
<circle cx="193.21" cy="104.88" r="1.25" fill="#5050ff" stroke="#1a1aff" stroke-width="0.8"/>
<circle cx="189.97" cy="106.44" r="1.25" fill="#5050ff" stroke="#1a1aff" stroke-width="0.8"/>
<circle cx="186.75" cy="108.06" r="1.25" fill="#5050ff" stroke="#1a1aff" stroke-width="0.8"/>
<circle cx="183.68" cy="109.94" r="1.25" fill="#5050ff" stroke="#1a1aff" stroke-width="0.8"/>
<circle cx="180.60" cy="111.80" r="1.25" fill="#5050ff" stroke="#1a1aff" stroke-width="0.8"/>
<circle cx="177.52" cy="113.66" r="1.25" fill="#5050ff" stroke="#1a1aff" stroke-width="0.8"/>
<circle cx="174.63" cy="115.81" r="1.25" fill="#5050ff" stroke="#1a1aff" stroke-width="0.8"/>
<circle cx="172.78" cy="118.76" r="1.25" fill="#5050ff" stroke="#1a1aff" stroke-width="0.8"/>
<circle cx="158.90" cy="68.50" r="1.7" fill="#1a1aff" stroke="none" stroke-width="0.8"/>
<circle cx="158.90" cy="108.60" r="1.7" fill="#1a1aff" stroke="none" stroke-width="0.8"/>
<circle cx="160.90" cy="110.60" r="1.7" fill="#1a1aff" stroke="none" stroke-width="0.8"/>
<circle cx="163.80" cy="113.60" r="1.7" fill="#1a1aff" stroke="none" stroke-width="0.8"/>
<circle cx="166.80" cy="119.50" r="1.7" fill="#1a1aff" stroke="none" stroke-width="0.8"/>
<circle cx="169.10" cy="134.30" r="1.7" fill="#1a1aff" stroke="none" stroke-width="0.8"/>
<circle cx="208.90" cy="61.30" r="1.7" fill="#1a1aff" stroke="none" stroke-width="0.8"/>
<circle cx="211.30" cy="58.90" r="1.7" fill="#1a1aff" stroke="none" stroke-width="0.8"/>
<circle cx="208.20" cy="94.80" r="1.7" fill="#1a1aff" stroke="none" stroke-width="0.8"/>
<circle cx="217.60" cy="70.00" r="1.7" fill="#1a1aff" stroke="none" stroke-width="0.8"/>
<circle cx="219.20" cy="77.90" r="1.7" fill="#1a1aff" stroke="none" stroke-width="0.8"/>
<line x1="158.90" y1="68.00" x2="158.90" y2="75.00" stroke="#f01818" stroke-width="1.2"/>
<line x1="117.80" y1="80.00" x2="117.80" y2="149.00" stroke="#2a2a2a" stroke-width="1.15" stroke-dasharray="1.1,1.1"/>
<line x1="193.40" y1="47.00" x2="193.40" y2="149.00" stroke="#2a2a2a" stroke-width="1.15" stroke-dasharray="1.1,1.1"/>
<circle cx="117.80" cy="151.90" r="3" fill="none" stroke="#f01818" stroke-width="1.0" stroke-dasharray="1.3,0.9"/>
<circle cx="193.40" cy="151.90" r="3" fill="none" stroke="#1a1aff" stroke-width="1.0" stroke-dasharray="1.3,0.9"/>
<text x="133.10" y="73.80" font-size="9.8" text-anchor="start" fill="#2a2a2a">SET</text>
<path d="M141,96.5 C141,86 136,80 127,77" fill="none" stroke="#222" stroke-width="1.15" stroke-dasharray="1.5,1.1"/>
<path d="M122.5,74.8 L128,75 L126.5,79.2 Z" fill="#222"/>
<text x="188.60" y="18.30" font-size="9.8" text-anchor="start" fill="#2a2a2a">RESET</text>
<path d="M178.5,15 C192,18 203,28 207,40" fill="none" stroke="#222" stroke-width="1.15" stroke-dasharray="1.5,1.1"/>
<path d="M205,39.5 L211,40 L208.5,45 Z" fill="#111"/>
<rect x="62.40" y="82.90" width="51.80" height="58.70" fill="#fff" stroke="none" stroke-width="1"/>
<line x1="67.80" y1="82.90" x2="67.80" y2="141.60" stroke="#cfcfcf" stroke-width="0.7" stroke-dasharray="1,1.5"/>
<line x1="88.70" y1="82.90" x2="88.70" y2="141.60" stroke="#cfcfcf" stroke-width="0.7" stroke-dasharray="1,1.5"/>
<line x1="109.60" y1="82.90" x2="109.60" y2="141.60" stroke="#cfcfcf" stroke-width="0.7" stroke-dasharray="1,1.5"/>
<line x1="62.40" y1="90.30" x2="114.20" y2="90.30" stroke="#cfcfcf" stroke-width="0.7" stroke-dasharray="1,1.5"/>
<line x1="62.40" y1="102.90" x2="114.20" y2="102.90" stroke="#cfcfcf" stroke-width="0.7" stroke-dasharray="1,1.5"/>
<line x1="62.40" y1="115.50" x2="114.20" y2="115.50" stroke="#cfcfcf" stroke-width="0.7" stroke-dasharray="1,1.5"/>
<line x1="62.40" y1="128.10" x2="114.20" y2="128.10" stroke="#cfcfcf" stroke-width="0.7" stroke-dasharray="1,1.5"/>
<line x1="62.40" y1="140.70" x2="114.20" y2="140.70" stroke="#cfcfcf" stroke-width="0.7" stroke-dasharray="1,1.5"/>
<line x1="62.40" y1="90.30" x2="64.40" y2="90.30" stroke="#4a4a4a" stroke-width="0.8"/>
<line x1="114.20" y1="90.30" x2="112.20" y2="90.30" stroke="#4a4a4a" stroke-width="0.8"/>
<line x1="62.40" y1="102.90" x2="64.40" y2="102.90" stroke="#4a4a4a" stroke-width="0.8"/>
<line x1="114.20" y1="102.90" x2="112.20" y2="102.90" stroke="#4a4a4a" stroke-width="0.8"/>
<line x1="62.40" y1="115.50" x2="64.40" y2="115.50" stroke="#4a4a4a" stroke-width="0.8"/>
<line x1="114.20" y1="115.50" x2="112.20" y2="115.50" stroke="#4a4a4a" stroke-width="0.8"/>
<line x1="62.40" y1="128.10" x2="64.40" y2="128.10" stroke="#4a4a4a" stroke-width="0.8"/>
<line x1="114.20" y1="128.10" x2="112.20" y2="128.10" stroke="#4a4a4a" stroke-width="0.8"/>
<line x1="62.40" y1="140.70" x2="64.40" y2="140.70" stroke="#4a4a4a" stroke-width="0.8"/>
<line x1="114.20" y1="140.70" x2="112.20" y2="140.70" stroke="#4a4a4a" stroke-width="0.8"/>
<line x1="67.80" y1="141.60" x2="67.80" y2="139.60" stroke="#4a4a4a" stroke-width="0.8"/>
<line x1="88.70" y1="141.60" x2="88.70" y2="139.60" stroke="#4a4a4a" stroke-width="0.8"/>
<line x1="109.60" y1="141.60" x2="109.60" y2="139.60" stroke="#4a4a4a" stroke-width="0.8"/>
<rect x="62.40" y="82.90" width="51.80" height="58.70" fill="none" stroke="#4a4a4a" stroke-width="1"/>
<text x="57.20" y="92.90" font-size="7" text-anchor="end" fill="#2a2a2a" style="stroke-width:0.1px">10</text>
<text x="57.30" y="89.50" font-size="4.6" text-anchor="start" fill="#2a2a2a" style="stroke-width:0.1px">0</text>
<text x="57.20" y="105.50" font-size="7" text-anchor="end" fill="#2a2a2a" style="stroke-width:0.1px">10</text>
<text x="57.30" y="102.10" font-size="4.6" text-anchor="start" fill="#2a2a2a" style="stroke-width:0.1px">-2</text>
<text x="57.20" y="118.10" font-size="7" text-anchor="end" fill="#2a2a2a" style="stroke-width:0.1px">10</text>
<text x="57.30" y="114.70" font-size="4.6" text-anchor="start" fill="#2a2a2a" style="stroke-width:0.1px">-4</text>
<text x="57.20" y="130.70" font-size="7" text-anchor="end" fill="#2a2a2a" style="stroke-width:0.1px">10</text>
<text x="57.30" y="127.30" font-size="4.6" text-anchor="start" fill="#2a2a2a" style="stroke-width:0.1px">-6</text>
<text x="57.20" y="143.30" font-size="7" text-anchor="end" fill="#2a2a2a" style="stroke-width:0.1px">10</text>
<text x="57.30" y="139.90" font-size="4.6" text-anchor="start" fill="#2a2a2a" style="stroke-width:0.1px">-8</text>
<text x="67.80" y="148.60" font-size="7.2" text-anchor="middle" fill="#2a2a2a" style="stroke-width:0.1px">-2</text>
<text x="88.70" y="148.60" font-size="7.2" text-anchor="middle" fill="#2a2a2a" style="stroke-width:0.1px">-1</text>
<text x="109.60" y="148.60" font-size="7.2" text-anchor="middle" fill="#2a2a2a" style="stroke-width:0.1px">0</text>
<text x="87.80" y="81.80" font-size="8.6" text-anchor="middle" fill="#2a2a2a">Forming</text>
<polyline points="66.80,90.30 69.70,91.70 71.70,92.70 73.50,91.00 75.60,90.70 77.60,99.60 79.60,94.70 81.60,96.60 84.50,93.70 87.50,92.70 91.40,93.70 97.30,94.70 101.30,95.60 105.20,102.50 107.20,105.50 109.20,122.30" fill="none" stroke="#f01818" stroke-width="0.9" stroke-linejoin="round"/>
<polyline points="66.80,90.30 72.00,91.00 76.00,91.30 79.60,91.70 83.50,95.60 85.50,97.60 86.50,106.50 90.40,107.50 91.40,117.30 96.00,118.60 102.60,121.20 106.60,124.50 108.60,128.40 109.90,137.60" fill="none" stroke="#f01818" stroke-width="0.9" stroke-linejoin="round"/>
<circle cx="66.80" cy="90.30" r="0.7" fill="#f01818" stroke="none" stroke-width="0.8"/>
<circle cx="69.14" cy="91.43" r="0.7" fill="#f01818" stroke="none" stroke-width="0.8"/>
<circle cx="71.47" cy="92.59" r="0.7" fill="#f01818" stroke="none" stroke-width="0.8"/>
<circle cx="73.40" cy="91.09" r="0.7" fill="#f01818" stroke="none" stroke-width="0.8"/>
<circle cx="75.68" cy="91.04" r="0.7" fill="#f01818" stroke="none" stroke-width="0.8"/>
<circle cx="76.25" cy="93.57" r="0.7" fill="#f01818" stroke="none" stroke-width="0.8"/>
<circle cx="76.82" cy="96.11" r="0.7" fill="#f01818" stroke="none" stroke-width="0.8"/>
<circle cx="77.39" cy="98.65" r="0.7" fill="#f01818" stroke="none" stroke-width="0.8"/>
<circle cx="78.21" cy="98.10" r="0.7" fill="#f01818" stroke="none" stroke-width="0.8"/>
<circle cx="79.20" cy="95.69" r="0.7" fill="#f01818" stroke="none" stroke-width="0.8"/>
<circle cx="80.71" cy="95.76" r="0.7" fill="#f01818" stroke="none" stroke-width="0.8"/>
<circle cx="82.57" cy="95.63" r="0.7" fill="#f01818" stroke="none" stroke-width="0.8"/>
<circle cx="84.41" cy="93.79" r="0.7" fill="#f01818" stroke="none" stroke-width="0.8"/>
<circle cx="86.85" cy="92.92" r="0.7" fill="#f01818" stroke="none" stroke-width="0.8"/>
<circle cx="89.35" cy="93.17" r="0.7" fill="#f01818" stroke="none" stroke-width="0.8"/>
<circle cx="91.88" cy="93.78" r="0.7" fill="#f01818" stroke="none" stroke-width="0.8"/>
<circle cx="94.44" cy="94.22" r="0.7" fill="#f01818" stroke="none" stroke-width="0.8"/>
<circle cx="97.00" cy="94.65" r="0.7" fill="#f01818" stroke="none" stroke-width="0.8"/>
<circle cx="99.54" cy="95.20" r="0.7" fill="#f01818" stroke="none" stroke-width="0.8"/>
<circle cx="101.69" cy="96.30" r="0.7" fill="#f01818" stroke="none" stroke-width="0.8"/>
<circle cx="102.97" cy="98.56" r="0.7" fill="#f01818" stroke="none" stroke-width="0.8"/>
<circle cx="104.25" cy="100.82" r="0.7" fill="#f01818" stroke="none" stroke-width="0.8"/>
<circle cx="105.57" cy="103.06" r="0.7" fill="#f01818" stroke="none" stroke-width="0.8"/>
<circle cx="107.02" cy="105.22" r="0.7" fill="#f01818" stroke="none" stroke-width="0.8"/>
<circle cx="107.47" cy="107.75" r="0.7" fill="#f01818" stroke="none" stroke-width="0.8"/>
<circle cx="107.78" cy="110.33" r="0.7" fill="#f01818" stroke="none" stroke-width="0.8"/>
<circle cx="108.08" cy="112.92" r="0.7" fill="#f01818" stroke="none" stroke-width="0.8"/>
<circle cx="108.39" cy="115.50" r="0.7" fill="#f01818" stroke="none" stroke-width="0.8"/>
<circle cx="108.70" cy="118.08" r="0.7" fill="#f01818" stroke="none" stroke-width="0.8"/>
<circle cx="109.00" cy="120.66" r="0.7" fill="#f01818" stroke="none" stroke-width="0.8"/>
<circle cx="66.80" cy="90.30" r="0.7" fill="#f01818" stroke="none" stroke-width="0.8"/>
<circle cx="69.38" cy="90.65" r="0.7" fill="#f01818" stroke="none" stroke-width="0.8"/>
<circle cx="71.95" cy="90.99" r="0.7" fill="#f01818" stroke="none" stroke-width="0.8"/>
<circle cx="74.55" cy="91.19" r="0.7" fill="#f01818" stroke="none" stroke-width="0.8"/>
<circle cx="77.13" cy="91.43" r="0.7" fill="#f01818" stroke="none" stroke-width="0.8"/>
<circle cx="79.68" cy="91.78" r="0.7" fill="#f01818" stroke="none" stroke-width="0.8"/>
<circle cx="81.52" cy="93.62" r="0.7" fill="#f01818" stroke="none" stroke-width="0.8"/>
<circle cx="83.36" cy="95.46" r="0.7" fill="#f01818" stroke="none" stroke-width="0.8"/>
<circle cx="85.20" cy="97.30" r="0.7" fill="#f01818" stroke="none" stroke-width="0.8"/>
<circle cx="85.74" cy="99.76" r="0.7" fill="#f01818" stroke="none" stroke-width="0.8"/>
<circle cx="86.03" cy="102.35" r="0.7" fill="#f01818" stroke="none" stroke-width="0.8"/>
<circle cx="86.32" cy="104.93" r="0.7" fill="#f01818" stroke="none" stroke-width="0.8"/>
<circle cx="87.49" cy="106.75" r="0.7" fill="#f01818" stroke="none" stroke-width="0.8"/>
<circle cx="90.01" cy="107.40" r="0.7" fill="#f01818" stroke="none" stroke-width="0.8"/>
<circle cx="90.62" cy="109.68" r="0.7" fill="#f01818" stroke="none" stroke-width="0.8"/>
<circle cx="90.89" cy="112.27" r="0.7" fill="#f01818" stroke="none" stroke-width="0.8"/>
<circle cx="91.15" cy="114.86" r="0.7" fill="#f01818" stroke="none" stroke-width="0.8"/>
<circle cx="91.54" cy="117.34" r="0.7" fill="#f01818" stroke="none" stroke-width="0.8"/>
<circle cx="94.04" cy="118.05" r="0.7" fill="#f01818" stroke="none" stroke-width="0.8"/>
<circle cx="96.52" cy="118.81" r="0.7" fill="#f01818" stroke="none" stroke-width="0.8"/>
<circle cx="98.94" cy="119.76" r="0.7" fill="#f01818" stroke="none" stroke-width="0.8"/>
<circle cx="101.36" cy="120.71" r="0.7" fill="#f01818" stroke="none" stroke-width="0.8"/>
<circle cx="103.58" cy="122.01" r="0.7" fill="#f01818" stroke="none" stroke-width="0.8"/>
<circle cx="105.58" cy="123.66" r="0.7" fill="#f01818" stroke="none" stroke-width="0.8"/>
<circle cx="107.19" cy="125.64" r="0.7" fill="#f01818" stroke="none" stroke-width="0.8"/>
<circle cx="108.37" cy="127.96" r="0.7" fill="#f01818" stroke="none" stroke-width="0.8"/>
<circle cx="108.89" cy="130.48" r="0.7" fill="#f01818" stroke="none" stroke-width="0.8"/>
<circle cx="109.26" cy="133.05" r="0.7" fill="#f01818" stroke="none" stroke-width="0.8"/>
<circle cx="109.62" cy="135.63" r="0.7" fill="#f01818" stroke="none" stroke-width="0.8"/>
<rect x="72.40" y="134.40" width="17.70" height="7.20" fill="#fff" stroke="#555" stroke-width="0.6" stroke-dasharray="0.8,0.8"/>
<text x="81.20" y="140.20" font-size="6.4" text-anchor="middle" fill="#2a2a2a" style="stroke-width:0.1px">0.84V</text>
<line x1="91.40" y1="117.50" x2="91.40" y2="141.00" stroke="#333" stroke-width="0.8" stroke-dasharray="0.9,1"/>
<path d="M89.5,139.6 L92.8,141.5 L89.5,143.2" fill="none" stroke="#444" stroke-width="0.7"/>
<line x1="280.20" y1="150.70" x2="280.20" y2="147.70" stroke="#5a5a5a" stroke-width="1"/>
<line x1="280.20" y1="7.30" x2="280.20" y2="10.30" stroke="#5a5a5a" stroke-width="1"/>
<line x1="322.90" y1="150.70" x2="322.90" y2="147.70" stroke="#5a5a5a" stroke-width="1"/>
<line x1="322.90" y1="7.30" x2="322.90" y2="10.30" stroke="#5a5a5a" stroke-width="1"/>
<line x1="365.60" y1="150.70" x2="365.60" y2="147.70" stroke="#5a5a5a" stroke-width="1"/>
<line x1="365.60" y1="7.30" x2="365.60" y2="10.30" stroke="#5a5a5a" stroke-width="1"/>
<line x1="408.30" y1="150.70" x2="408.30" y2="147.70" stroke="#5a5a5a" stroke-width="1"/>
<line x1="408.30" y1="7.30" x2="408.30" y2="10.30" stroke="#5a5a5a" stroke-width="1"/>
<line x1="451.00" y1="150.70" x2="451.00" y2="147.70" stroke="#5a5a5a" stroke-width="1"/>
<line x1="451.00" y1="7.30" x2="451.00" y2="10.30" stroke="#5a5a5a" stroke-width="1"/>
<line x1="301.55" y1="150.70" x2="301.55" y2="148.90" stroke="#5a5a5a" stroke-width="0.8"/>
<line x1="301.55" y1="7.30" x2="301.55" y2="9.10" stroke="#5a5a5a" stroke-width="0.8"/>
<line x1="344.25" y1="150.70" x2="344.25" y2="148.90" stroke="#5a5a5a" stroke-width="0.8"/>
<line x1="344.25" y1="7.30" x2="344.25" y2="9.10" stroke="#5a5a5a" stroke-width="0.8"/>
<line x1="386.95" y1="150.70" x2="386.95" y2="148.90" stroke="#5a5a5a" stroke-width="0.8"/>
<line x1="386.95" y1="7.30" x2="386.95" y2="9.10" stroke="#5a5a5a" stroke-width="0.8"/>
<line x1="429.65" y1="150.70" x2="429.65" y2="148.90" stroke="#5a5a5a" stroke-width="0.8"/>
<line x1="429.65" y1="7.30" x2="429.65" y2="9.10" stroke="#5a5a5a" stroke-width="0.8"/>
<line x1="276.10" y1="150.70" x2="279.10" y2="150.70" stroke="#5a5a5a" stroke-width="1"/>
<line x1="455.00" y1="150.70" x2="452.00" y2="150.70" stroke="#5a5a5a" stroke-width="1"/>
<line x1="276.10" y1="144.53" x2="277.60" y2="144.53" stroke="#5a5a5a" stroke-width="0.6"/>
<line x1="455.00" y1="144.53" x2="453.50" y2="144.53" stroke="#5a5a5a" stroke-width="0.6"/>
<line x1="276.10" y1="140.92" x2="277.60" y2="140.92" stroke="#5a5a5a" stroke-width="0.6"/>
<line x1="455.00" y1="140.92" x2="453.50" y2="140.92" stroke="#5a5a5a" stroke-width="0.6"/>
<line x1="276.10" y1="138.36" x2="277.60" y2="138.36" stroke="#5a5a5a" stroke-width="0.6"/>
<line x1="455.00" y1="138.36" x2="453.50" y2="138.36" stroke="#5a5a5a" stroke-width="0.6"/>
<line x1="276.10" y1="136.38" x2="277.60" y2="136.38" stroke="#5a5a5a" stroke-width="0.6"/>
<line x1="455.00" y1="136.38" x2="453.50" y2="136.38" stroke="#5a5a5a" stroke-width="0.6"/>
<line x1="276.10" y1="134.76" x2="277.60" y2="134.76" stroke="#5a5a5a" stroke-width="0.6"/>
<line x1="455.00" y1="134.76" x2="453.50" y2="134.76" stroke="#5a5a5a" stroke-width="0.6"/>
<line x1="276.10" y1="133.38" x2="277.60" y2="133.38" stroke="#5a5a5a" stroke-width="0.6"/>
<line x1="455.00" y1="133.38" x2="453.50" y2="133.38" stroke="#5a5a5a" stroke-width="0.6"/>
<line x1="276.10" y1="132.20" x2="277.60" y2="132.20" stroke="#5a5a5a" stroke-width="0.6"/>
<line x1="455.00" y1="132.20" x2="453.50" y2="132.20" stroke="#5a5a5a" stroke-width="0.6"/>
<line x1="276.10" y1="131.15" x2="277.60" y2="131.15" stroke="#5a5a5a" stroke-width="0.6"/>
<line x1="455.00" y1="131.15" x2="453.50" y2="131.15" stroke="#5a5a5a" stroke-width="0.6"/>
<line x1="276.10" y1="130.21" x2="279.10" y2="130.21" stroke="#5a5a5a" stroke-width="1"/>
<line x1="455.00" y1="130.21" x2="452.00" y2="130.21" stroke="#5a5a5a" stroke-width="1"/>
<line x1="276.10" y1="124.04" x2="277.60" y2="124.04" stroke="#5a5a5a" stroke-width="0.6"/>
<line x1="455.00" y1="124.04" x2="453.50" y2="124.04" stroke="#5a5a5a" stroke-width="0.6"/>
<line x1="276.10" y1="120.43" x2="277.60" y2="120.43" stroke="#5a5a5a" stroke-width="0.6"/>
<line x1="455.00" y1="120.43" x2="453.50" y2="120.43" stroke="#5a5a5a" stroke-width="0.6"/>
<line x1="276.10" y1="117.87" x2="277.60" y2="117.87" stroke="#5a5a5a" stroke-width="0.6"/>
<line x1="455.00" y1="117.87" x2="453.50" y2="117.87" stroke="#5a5a5a" stroke-width="0.6"/>
<line x1="276.10" y1="115.89" x2="277.60" y2="115.89" stroke="#5a5a5a" stroke-width="0.6"/>
<line x1="455.00" y1="115.89" x2="453.50" y2="115.89" stroke="#5a5a5a" stroke-width="0.6"/>
<line x1="276.10" y1="114.27" x2="277.60" y2="114.27" stroke="#5a5a5a" stroke-width="0.6"/>
<line x1="455.00" y1="114.27" x2="453.50" y2="114.27" stroke="#5a5a5a" stroke-width="0.6"/>
<line x1="276.10" y1="112.89" x2="277.60" y2="112.89" stroke="#5a5a5a" stroke-width="0.6"/>
<line x1="455.00" y1="112.89" x2="453.50" y2="112.89" stroke="#5a5a5a" stroke-width="0.6"/>
<line x1="276.10" y1="111.71" x2="277.60" y2="111.71" stroke="#5a5a5a" stroke-width="0.6"/>
<line x1="455.00" y1="111.71" x2="453.50" y2="111.71" stroke="#5a5a5a" stroke-width="0.6"/>
<line x1="276.10" y1="110.66" x2="277.60" y2="110.66" stroke="#5a5a5a" stroke-width="0.6"/>
<line x1="455.00" y1="110.66" x2="453.50" y2="110.66" stroke="#5a5a5a" stroke-width="0.6"/>
<line x1="276.10" y1="109.72" x2="279.10" y2="109.72" stroke="#5a5a5a" stroke-width="1"/>
<line x1="455.00" y1="109.72" x2="452.00" y2="109.72" stroke="#5a5a5a" stroke-width="1"/>
<line x1="276.10" y1="103.55" x2="277.60" y2="103.55" stroke="#5a5a5a" stroke-width="0.6"/>
<line x1="455.00" y1="103.55" x2="453.50" y2="103.55" stroke="#5a5a5a" stroke-width="0.6"/>
<line x1="276.10" y1="99.94" x2="277.60" y2="99.94" stroke="#5a5a5a" stroke-width="0.6"/>
<line x1="455.00" y1="99.94" x2="453.50" y2="99.94" stroke="#5a5a5a" stroke-width="0.6"/>
<line x1="276.10" y1="97.38" x2="277.60" y2="97.38" stroke="#5a5a5a" stroke-width="0.6"/>
<line x1="455.00" y1="97.38" x2="453.50" y2="97.38" stroke="#5a5a5a" stroke-width="0.6"/>
<line x1="276.10" y1="95.40" x2="277.60" y2="95.40" stroke="#5a5a5a" stroke-width="0.6"/>
<line x1="455.00" y1="95.40" x2="453.50" y2="95.40" stroke="#5a5a5a" stroke-width="0.6"/>
<line x1="276.10" y1="93.78" x2="277.60" y2="93.78" stroke="#5a5a5a" stroke-width="0.6"/>
<line x1="455.00" y1="93.78" x2="453.50" y2="93.78" stroke="#5a5a5a" stroke-width="0.6"/>
<line x1="276.10" y1="92.40" x2="277.60" y2="92.40" stroke="#5a5a5a" stroke-width="0.6"/>
<line x1="455.00" y1="92.40" x2="453.50" y2="92.40" stroke="#5a5a5a" stroke-width="0.6"/>
<line x1="276.10" y1="91.22" x2="277.60" y2="91.22" stroke="#5a5a5a" stroke-width="0.6"/>
<line x1="455.00" y1="91.22" x2="453.50" y2="91.22" stroke="#5a5a5a" stroke-width="0.6"/>
<line x1="276.10" y1="90.17" x2="277.60" y2="90.17" stroke="#5a5a5a" stroke-width="0.6"/>
<line x1="455.00" y1="90.17" x2="453.50" y2="90.17" stroke="#5a5a5a" stroke-width="0.6"/>
<line x1="276.10" y1="89.23" x2="279.10" y2="89.23" stroke="#5a5a5a" stroke-width="1"/>
<line x1="455.00" y1="89.23" x2="452.00" y2="89.23" stroke="#5a5a5a" stroke-width="1"/>
<line x1="276.10" y1="83.06" x2="277.60" y2="83.06" stroke="#5a5a5a" stroke-width="0.6"/>
<line x1="455.00" y1="83.06" x2="453.50" y2="83.06" stroke="#5a5a5a" stroke-width="0.6"/>
<line x1="276.10" y1="79.45" x2="277.60" y2="79.45" stroke="#5a5a5a" stroke-width="0.6"/>
<line x1="455.00" y1="79.45" x2="453.50" y2="79.45" stroke="#5a5a5a" stroke-width="0.6"/>
<line x1="276.10" y1="76.89" x2="277.60" y2="76.89" stroke="#5a5a5a" stroke-width="0.6"/>
<line x1="455.00" y1="76.89" x2="453.50" y2="76.89" stroke="#5a5a5a" stroke-width="0.6"/>
<line x1="276.10" y1="74.91" x2="277.60" y2="74.91" stroke="#5a5a5a" stroke-width="0.6"/>
<line x1="455.00" y1="74.91" x2="453.50" y2="74.91" stroke="#5a5a5a" stroke-width="0.6"/>
<line x1="276.10" y1="73.29" x2="277.60" y2="73.29" stroke="#5a5a5a" stroke-width="0.6"/>
<line x1="455.00" y1="73.29" x2="453.50" y2="73.29" stroke="#5a5a5a" stroke-width="0.6"/>
<line x1="276.10" y1="71.91" x2="277.60" y2="71.91" stroke="#5a5a5a" stroke-width="0.6"/>
<line x1="455.00" y1="71.91" x2="453.50" y2="71.91" stroke="#5a5a5a" stroke-width="0.6"/>
<line x1="276.10" y1="70.73" x2="277.60" y2="70.73" stroke="#5a5a5a" stroke-width="0.6"/>
<line x1="455.00" y1="70.73" x2="453.50" y2="70.73" stroke="#5a5a5a" stroke-width="0.6"/>
<line x1="276.10" y1="69.68" x2="277.60" y2="69.68" stroke="#5a5a5a" stroke-width="0.6"/>
<line x1="455.00" y1="69.68" x2="453.50" y2="69.68" stroke="#5a5a5a" stroke-width="0.6"/>
<line x1="276.10" y1="68.74" x2="279.10" y2="68.74" stroke="#5a5a5a" stroke-width="1"/>
<line x1="455.00" y1="68.74" x2="452.00" y2="68.74" stroke="#5a5a5a" stroke-width="1"/>
<line x1="276.10" y1="62.57" x2="277.60" y2="62.57" stroke="#5a5a5a" stroke-width="0.6"/>
<line x1="455.00" y1="62.57" x2="453.50" y2="62.57" stroke="#5a5a5a" stroke-width="0.6"/>
<line x1="276.10" y1="58.96" x2="277.60" y2="58.96" stroke="#5a5a5a" stroke-width="0.6"/>
<line x1="455.00" y1="58.96" x2="453.50" y2="58.96" stroke="#5a5a5a" stroke-width="0.6"/>
<line x1="276.10" y1="56.40" x2="277.60" y2="56.40" stroke="#5a5a5a" stroke-width="0.6"/>
<line x1="455.00" y1="56.40" x2="453.50" y2="56.40" stroke="#5a5a5a" stroke-width="0.6"/>
<line x1="276.10" y1="54.42" x2="277.60" y2="54.42" stroke="#5a5a5a" stroke-width="0.6"/>
<line x1="455.00" y1="54.42" x2="453.50" y2="54.42" stroke="#5a5a5a" stroke-width="0.6"/>
<line x1="276.10" y1="52.80" x2="277.60" y2="52.80" stroke="#5a5a5a" stroke-width="0.6"/>
<line x1="455.00" y1="52.80" x2="453.50" y2="52.80" stroke="#5a5a5a" stroke-width="0.6"/>
<line x1="276.10" y1="51.42" x2="277.60" y2="51.42" stroke="#5a5a5a" stroke-width="0.6"/>
<line x1="455.00" y1="51.42" x2="453.50" y2="51.42" stroke="#5a5a5a" stroke-width="0.6"/>
<line x1="276.10" y1="50.24" x2="277.60" y2="50.24" stroke="#5a5a5a" stroke-width="0.6"/>
<line x1="455.00" y1="50.24" x2="453.50" y2="50.24" stroke="#5a5a5a" stroke-width="0.6"/>
<line x1="276.10" y1="49.19" x2="277.60" y2="49.19" stroke="#5a5a5a" stroke-width="0.6"/>
<line x1="455.00" y1="49.19" x2="453.50" y2="49.19" stroke="#5a5a5a" stroke-width="0.6"/>
<line x1="276.10" y1="48.25" x2="279.10" y2="48.25" stroke="#5a5a5a" stroke-width="1"/>
<line x1="455.00" y1="48.25" x2="452.00" y2="48.25" stroke="#5a5a5a" stroke-width="1"/>
<line x1="276.10" y1="42.08" x2="277.60" y2="42.08" stroke="#5a5a5a" stroke-width="0.6"/>
<line x1="455.00" y1="42.08" x2="453.50" y2="42.08" stroke="#5a5a5a" stroke-width="0.6"/>
<line x1="276.10" y1="38.47" x2="277.60" y2="38.47" stroke="#5a5a5a" stroke-width="0.6"/>
<line x1="455.00" y1="38.47" x2="453.50" y2="38.47" stroke="#5a5a5a" stroke-width="0.6"/>
<line x1="276.10" y1="35.91" x2="277.60" y2="35.91" stroke="#5a5a5a" stroke-width="0.6"/>
<line x1="455.00" y1="35.91" x2="453.50" y2="35.91" stroke="#5a5a5a" stroke-width="0.6"/>
<line x1="276.10" y1="33.93" x2="277.60" y2="33.93" stroke="#5a5a5a" stroke-width="0.6"/>
<line x1="455.00" y1="33.93" x2="453.50" y2="33.93" stroke="#5a5a5a" stroke-width="0.6"/>
<line x1="276.10" y1="32.31" x2="277.60" y2="32.31" stroke="#5a5a5a" stroke-width="0.6"/>
<line x1="455.00" y1="32.31" x2="453.50" y2="32.31" stroke="#5a5a5a" stroke-width="0.6"/>
<line x1="276.10" y1="30.93" x2="277.60" y2="30.93" stroke="#5a5a5a" stroke-width="0.6"/>
<line x1="455.00" y1="30.93" x2="453.50" y2="30.93" stroke="#5a5a5a" stroke-width="0.6"/>
<line x1="276.10" y1="29.75" x2="277.60" y2="29.75" stroke="#5a5a5a" stroke-width="0.6"/>
<line x1="455.00" y1="29.75" x2="453.50" y2="29.75" stroke="#5a5a5a" stroke-width="0.6"/>
<line x1="276.10" y1="28.70" x2="277.60" y2="28.70" stroke="#5a5a5a" stroke-width="0.6"/>
<line x1="455.00" y1="28.70" x2="453.50" y2="28.70" stroke="#5a5a5a" stroke-width="0.6"/>
<line x1="276.10" y1="27.76" x2="279.10" y2="27.76" stroke="#5a5a5a" stroke-width="1"/>
<line x1="455.00" y1="27.76" x2="452.00" y2="27.76" stroke="#5a5a5a" stroke-width="1"/>
<line x1="276.10" y1="21.59" x2="277.60" y2="21.59" stroke="#5a5a5a" stroke-width="0.6"/>
<line x1="455.00" y1="21.59" x2="453.50" y2="21.59" stroke="#5a5a5a" stroke-width="0.6"/>
<line x1="276.10" y1="17.98" x2="277.60" y2="17.98" stroke="#5a5a5a" stroke-width="0.6"/>
<line x1="455.00" y1="17.98" x2="453.50" y2="17.98" stroke="#5a5a5a" stroke-width="0.6"/>
<line x1="276.10" y1="15.42" x2="277.60" y2="15.42" stroke="#5a5a5a" stroke-width="0.6"/>
<line x1="455.00" y1="15.42" x2="453.50" y2="15.42" stroke="#5a5a5a" stroke-width="0.6"/>
<line x1="276.10" y1="13.44" x2="277.60" y2="13.44" stroke="#5a5a5a" stroke-width="0.6"/>
<line x1="455.00" y1="13.44" x2="453.50" y2="13.44" stroke="#5a5a5a" stroke-width="0.6"/>
<line x1="276.10" y1="11.82" x2="277.60" y2="11.82" stroke="#5a5a5a" stroke-width="0.6"/>
<line x1="455.00" y1="11.82" x2="453.50" y2="11.82" stroke="#5a5a5a" stroke-width="0.6"/>
<line x1="276.10" y1="10.44" x2="277.60" y2="10.44" stroke="#5a5a5a" stroke-width="0.6"/>
<line x1="455.00" y1="10.44" x2="453.50" y2="10.44" stroke="#5a5a5a" stroke-width="0.6"/>
<line x1="276.10" y1="9.26" x2="277.60" y2="9.26" stroke="#5a5a5a" stroke-width="0.6"/>
<line x1="455.00" y1="9.26" x2="453.50" y2="9.26" stroke="#5a5a5a" stroke-width="0.6"/>
<line x1="276.10" y1="8.21" x2="277.60" y2="8.21" stroke="#5a5a5a" stroke-width="0.6"/>
<line x1="455.00" y1="8.21" x2="453.50" y2="8.21" stroke="#5a5a5a" stroke-width="0.6"/>
<line x1="276.10" y1="7.27" x2="279.10" y2="7.27" stroke="#5a5a5a" stroke-width="1"/>
<line x1="455.00" y1="7.27" x2="452.00" y2="7.27" stroke="#5a5a5a" stroke-width="1"/>
<rect x="276.10" y="7.30" width="178.90" height="143.40" fill="none" stroke="#5a5a5a" stroke-width="1.4"/>
<text x="280.20" y="162.90" font-size="10.7" text-anchor="middle" fill="#2a2a2a">0</text>
<text x="322.90" y="162.90" font-size="10.7" text-anchor="middle" fill="#2a2a2a">10000</text>
<text x="365.60" y="162.90" font-size="10.7" text-anchor="middle" fill="#2a2a2a">20000</text>
<text x="408.30" y="162.90" font-size="10.7" text-anchor="middle" fill="#2a2a2a">30000</text>
<text x="451.00" y="162.90" font-size="10.7" text-anchor="middle" fill="#2a2a2a">40000</text>
<text x="268.30" y="155.00" font-size="10.6" text-anchor="end" fill="#2a2a2a">10</text>
<text x="268.30" y="150.40" font-size="7.3" text-anchor="start" fill="#2a2a2a" style="stroke-width:0.1px">2</text>
<text x="268.30" y="134.51" font-size="10.6" text-anchor="end" fill="#2a2a2a">10</text>
<text x="268.30" y="129.91" font-size="7.3" text-anchor="start" fill="#2a2a2a" style="stroke-width:0.1px">3</text>
<text x="268.30" y="114.02" font-size="10.6" text-anchor="end" fill="#2a2a2a">10</text>
<text x="268.30" y="109.42" font-size="7.3" text-anchor="start" fill="#2a2a2a" style="stroke-width:0.1px">4</text>
<text x="268.30" y="93.53" font-size="10.6" text-anchor="end" fill="#2a2a2a">10</text>
<text x="268.30" y="88.93" font-size="7.3" text-anchor="start" fill="#2a2a2a" style="stroke-width:0.1px">5</text>
<text x="268.30" y="73.04" font-size="10.6" text-anchor="end" fill="#2a2a2a">10</text>
<text x="268.30" y="68.44" font-size="7.3" text-anchor="start" fill="#2a2a2a" style="stroke-width:0.1px">6</text>
<text x="268.30" y="52.55" font-size="10.6" text-anchor="end" fill="#2a2a2a">10</text>
<text x="268.30" y="47.95" font-size="7.3" text-anchor="start" fill="#2a2a2a" style="stroke-width:0.1px">7</text>
<text x="268.30" y="32.06" font-size="10.6" text-anchor="end" fill="#2a2a2a">10</text>
<text x="268.30" y="27.46" font-size="7.3" text-anchor="start" fill="#2a2a2a" style="stroke-width:0.1px">8</text>
<text x="268.30" y="11.57" font-size="10.6" text-anchor="end" fill="#2a2a2a">10</text>
<text x="268.30" y="6.97" font-size="7.3" text-anchor="start" fill="#2a2a2a" style="stroke-width:0.1px">9</text>
<text x="365.30" y="176.20" font-size="10.8" text-anchor="middle" fill="#2a2a2a">Time (s)</text>
<text x="248.80" y="77.60" font-size="10.6" text-anchor="middle" fill="#2a2a2a" transform="rotate(-90 248.80 77.60)">Resistance (&#937;)</text>
<text x="235.30" y="16.50" font-size="17.5" text-anchor="start" fill="#111" font-weight="bold" style="stroke-width:0px">(b)</text>
<text x="279.60" y="28.60" font-size="10.8" text-anchor="start" fill="#2a2a2a">HRS (read at 50 mV)</text>
<text x="280.50" y="106.00" font-size="10.7" text-anchor="start" fill="#2a2a2a">LRS (read at 50 mV)</text>
<circle cx="279.90" cy="61.40" r="1.9" fill="#2323ee" stroke="none" stroke-width="0.8"/>
<circle cx="282.60" cy="60.70" r="1.9" fill="#2323ee" stroke="none" stroke-width="0.8"/>
<circle cx="284.70" cy="60.70" r="1.9" fill="#2323ee" stroke="none" stroke-width="0.8"/>
<circle cx="286.30" cy="65.80" r="1.9" fill="#2323ee" stroke="none" stroke-width="0.8"/>
<circle cx="288.90" cy="65.50" r="1.9" fill="#2323ee" stroke="none" stroke-width="0.8"/>
<circle cx="287.80" cy="52.40" r="1.9" fill="#2323ee" stroke="none" stroke-width="0.8"/>
<circle cx="291.00" cy="53.50" r="1.9" fill="#2323ee" stroke="none" stroke-width="0.8"/>
<circle cx="292.10" cy="43.40" r="1.9" fill="#2323ee" stroke="none" stroke-width="0.8"/>
<circle cx="293.10" cy="57.90" r="1.9" fill="#2323ee" stroke="none" stroke-width="0.8"/>
<circle cx="295.30" cy="61.40" r="1.9" fill="#2323ee" stroke="none" stroke-width="0.8"/>
<circle cx="296.50" cy="44.50" r="1.9" fill="#2323ee" stroke="none" stroke-width="0.8"/>
<circle cx="298.10" cy="52.40" r="1.9" fill="#2323ee" stroke="none" stroke-width="0.8"/>
<circle cx="299.40" cy="51.60" r="1.9" fill="#2323ee" stroke="none" stroke-width="0.8"/>
<circle cx="301.30" cy="53.90" r="1.9" fill="#2323ee" stroke="none" stroke-width="0.8"/>
<circle cx="303.20" cy="54.70" r="1.9" fill="#2323ee" stroke="none" stroke-width="0.8"/>
<circle cx="304.10" cy="44.50" r="1.9" fill="#2323ee" stroke="none" stroke-width="0.8"/>
<circle cx="306.00" cy="57.10" r="1.9" fill="#2323ee" stroke="none" stroke-width="0.8"/>
<circle cx="307.30" cy="60.70" r="1.9" fill="#2323ee" stroke="none" stroke-width="0.8"/>
<circle cx="308.40" cy="63.40" r="1.9" fill="#2323ee" stroke="none" stroke-width="0.8"/>
<circle cx="311.10" cy="61.80" r="1.9" fill="#2323ee" stroke="none" stroke-width="0.8"/>
<circle cx="310.00" cy="49.70" r="1.9" fill="#2323ee" stroke="none" stroke-width="0.8"/>
<circle cx="313.10" cy="42.90" r="1.9" fill="#2323ee" stroke="none" stroke-width="0.8"/>
<circle cx="314.70" cy="43.40" r="1.9" fill="#2323ee" stroke="none" stroke-width="0.8"/>
<circle cx="316.30" cy="54.70" r="1.9" fill="#2323ee" stroke="none" stroke-width="0.8"/>
<circle cx="317.40" cy="50.30" r="1.9" fill="#2323ee" stroke="none" stroke-width="0.8"/>
<circle cx="318.60" cy="33.40" r="1.9" fill="#2323ee" stroke="none" stroke-width="0.8"/>
<circle cx="320.50" cy="57.10" r="1.9" fill="#2323ee" stroke="none" stroke-width="0.8"/>
<circle cx="321.80" cy="60.30" r="1.9" fill="#2323ee" stroke="none" stroke-width="0.8"/>
<circle cx="323.40" cy="49.20" r="1.9" fill="#2323ee" stroke="none" stroke-width="0.8"/>
<circle cx="325.30" cy="62.60" r="1.9" fill="#2323ee" stroke="none" stroke-width="0.8"/>
<circle cx="326.50" cy="46.10" r="1.9" fill="#2323ee" stroke="none" stroke-width="0.8"/>
<circle cx="328.10" cy="65.00" r="1.9" fill="#2323ee" stroke="none" stroke-width="0.8"/>
<circle cx="329.70" cy="54.40" r="1.9" fill="#2323ee" stroke="none" stroke-width="0.8"/>
<circle cx="331.30" cy="63.40" r="1.9" fill="#2323ee" stroke="none" stroke-width="0.8"/>
<circle cx="332.50" cy="44.90" r="1.9" fill="#2323ee" stroke="none" stroke-width="0.8"/>
<circle cx="334.10" cy="58.20" r="1.9" fill="#2323ee" stroke="none" stroke-width="0.8"/>
<circle cx="335.70" cy="66.10" r="1.9" fill="#2323ee" stroke="none" stroke-width="0.8"/>
<circle cx="336.80" cy="48.40" r="1.9" fill="#2323ee" stroke="none" stroke-width="0.8"/>
<circle cx="338.40" cy="57.90" r="1.9" fill="#2323ee" stroke="none" stroke-width="0.8"/>
<circle cx="340.00" cy="56.60" r="1.9" fill="#2323ee" stroke="none" stroke-width="0.8"/>
<circle cx="341.50" cy="38.60" r="1.9" fill="#2323ee" stroke="none" stroke-width="0.8"/>
<circle cx="343.10" cy="44.50" r="1.9" fill="#2323ee" stroke="none" stroke-width="0.8"/>
<circle cx="344.70" cy="55.50" r="1.9" fill="#2323ee" stroke="none" stroke-width="0.8"/>
<circle cx="346.30" cy="56.30" r="1.9" fill="#2323ee" stroke="none" stroke-width="0.8"/>
<circle cx="347.80" cy="51.30" r="1.9" fill="#2323ee" stroke="none" stroke-width="0.8"/>
<circle cx="349.40" cy="58.20" r="1.9" fill="#2323ee" stroke="none" stroke-width="0.8"/>
<circle cx="351.00" cy="58.70" r="1.9" fill="#2323ee" stroke="none" stroke-width="0.8"/>
<circle cx="352.10" cy="62.30" r="1.9" fill="#2323ee" stroke="none" stroke-width="0.8"/>
<circle cx="353.70" cy="57.90" r="1.9" fill="#2323ee" stroke="none" stroke-width="0.8"/>
<circle cx="355.00" cy="44.50" r="1.9" fill="#2323ee" stroke="none" stroke-width="0.8"/>
<circle cx="357.30" cy="57.60" r="1.9" fill="#2323ee" stroke="none" stroke-width="0.8"/>
<circle cx="359.40" cy="63.90" r="1.9" fill="#2323ee" stroke="none" stroke-width="0.8"/>
<circle cx="361.00" cy="50.80" r="1.9" fill="#2323ee" stroke="none" stroke-width="0.8"/>
<circle cx="362.50" cy="61.40" r="1.9" fill="#2323ee" stroke="none" stroke-width="0.8"/>
<circle cx="365.50" cy="45.30" r="1.9" fill="#2323ee" stroke="none" stroke-width="0.8"/>
<circle cx="368.00" cy="63.00" r="1.9" fill="#2323ee" stroke="none" stroke-width="0.8"/>
<circle cx="369.60" cy="56.70" r="1.9" fill="#2323ee" stroke="none" stroke-width="0.8"/>
<circle cx="371.50" cy="65.80" r="1.9" fill="#2323ee" stroke="none" stroke-width="0.8"/>
<circle cx="372.70" cy="53.50" r="1.9" fill="#2323ee" stroke="none" stroke-width="0.8"/>
<circle cx="374.30" cy="57.60" r="1.9" fill="#2323ee" stroke="none" stroke-width="0.8"/>
<circle cx="375.40" cy="52.40" r="1.9" fill="#2323ee" stroke="none" stroke-width="0.8"/>
<circle cx="377.30" cy="50.00" r="1.9" fill="#2323ee" stroke="none" stroke-width="0.8"/>
<circle cx="378.60" cy="58.70" r="1.9" fill="#2323ee" stroke="none" stroke-width="0.8"/>
<circle cx="380.60" cy="61.90" r="1.9" fill="#2323ee" stroke="none" stroke-width="0.8"/>
<circle cx="382.20" cy="62.70" r="1.9" fill="#2323ee" stroke="none" stroke-width="0.8"/>
<circle cx="383.80" cy="60.80" r="1.9" fill="#2323ee" stroke="none" stroke-width="0.8"/>
<circle cx="385.40" cy="58.70" r="1.9" fill="#2323ee" stroke="none" stroke-width="0.8"/>
<circle cx="387.60" cy="65.80" r="1.9" fill="#2323ee" stroke="none" stroke-width="0.8"/>
<circle cx="388.90" cy="56.00" r="1.9" fill="#2323ee" stroke="none" stroke-width="0.8"/>
<circle cx="390.40" cy="54.00" r="1.9" fill="#2323ee" stroke="none" stroke-width="0.8"/>
<circle cx="392.00" cy="52.90" r="1.9" fill="#2323ee" stroke="none" stroke-width="0.8"/>
<circle cx="393.60" cy="62.70" r="1.9" fill="#2323ee" stroke="none" stroke-width="0.8"/>
<circle cx="395.20" cy="65.00" r="1.9" fill="#2323ee" stroke="none" stroke-width="0.8"/>
<circle cx="396.80" cy="58.70" r="1.9" fill="#2323ee" stroke="none" stroke-width="0.8"/>
<circle cx="398.30" cy="49.70" r="1.9" fill="#2323ee" stroke="none" stroke-width="0.8"/>
<circle cx="399.60" cy="56.30" r="1.9" fill="#2323ee" stroke="none" stroke-width="0.8"/>
<circle cx="401.20" cy="64.50" r="1.9" fill="#2323ee" stroke="none" stroke-width="0.8"/>
<circle cx="402.80" cy="46.10" r="1.9" fill="#2323ee" stroke="none" stroke-width="0.8"/>
<circle cx="403.90" cy="63.40" r="1.9" fill="#2323ee" stroke="none" stroke-width="0.8"/>
<circle cx="405.90" cy="52.40" r="1.9" fill="#2323ee" stroke="none" stroke-width="0.8"/>
<circle cx="407.80" cy="57.60" r="1.9" fill="#2323ee" stroke="none" stroke-width="0.8"/>
<circle cx="410.20" cy="66.10" r="1.9" fill="#2323ee" stroke="none" stroke-width="0.8"/>
<circle cx="411.80" cy="38.20" r="1.9" fill="#2323ee" stroke="none" stroke-width="0.8"/>
<circle cx="412.90" cy="59.50" r="1.9" fill="#2323ee" stroke="none" stroke-width="0.8"/>
<circle cx="414.40" cy="56.70" r="1.9" fill="#2323ee" stroke="none" stroke-width="0.8"/>
<circle cx="416.00" cy="58.20" r="1.9" fill="#2323ee" stroke="none" stroke-width="0.8"/>
<circle cx="417.60" cy="45.60" r="1.9" fill="#2323ee" stroke="none" stroke-width="0.8"/>
<circle cx="419.20" cy="64.50" r="1.9" fill="#2323ee" stroke="none" stroke-width="0.8"/>
<circle cx="420.80" cy="63.40" r="1.9" fill="#2323ee" stroke="none" stroke-width="0.8"/>
<circle cx="422.00" cy="53.50" r="1.9" fill="#2323ee" stroke="none" stroke-width="0.8"/>
<circle cx="423.60" cy="31.80" r="1.9" fill="#2323ee" stroke="none" stroke-width="0.8"/>
<circle cx="425.20" cy="64.20" r="1.9" fill="#2323ee" stroke="none" stroke-width="0.8"/>
<circle cx="426.50" cy="59.80" r="1.9" fill="#2323ee" stroke="none" stroke-width="0.8"/>
<circle cx="428.00" cy="65.00" r="1.9" fill="#2323ee" stroke="none" stroke-width="0.8"/>
<circle cx="429.60" cy="64.50" r="1.9" fill="#2323ee" stroke="none" stroke-width="0.8"/>
<circle cx="431.20" cy="61.40" r="1.9" fill="#2323ee" stroke="none" stroke-width="0.8"/>
<circle cx="432.80" cy="63.90" r="1.9" fill="#2323ee" stroke="none" stroke-width="0.8"/>
<circle cx="433.90" cy="53.50" r="1.9" fill="#2323ee" stroke="none" stroke-width="0.8"/>
<circle cx="435.50" cy="63.00" r="1.9" fill="#2323ee" stroke="none" stroke-width="0.8"/>
<circle cx="437.00" cy="54.80" r="1.9" fill="#2323ee" stroke="none" stroke-width="0.8"/>
<circle cx="438.60" cy="62.30" r="1.9" fill="#2323ee" stroke="none" stroke-width="0.8"/>
<circle cx="440.20" cy="61.40" r="1.9" fill="#2323ee" stroke="none" stroke-width="0.8"/>
<circle cx="441.80" cy="52.90" r="1.9" fill="#2323ee" stroke="none" stroke-width="0.8"/>
<circle cx="442.90" cy="58.20" r="1.9" fill="#2323ee" stroke="none" stroke-width="0.8"/>
<circle cx="445.70" cy="44.00" r="1.9" fill="#2323ee" stroke="none" stroke-width="0.8"/>
<circle cx="447.30" cy="52.40" r="1.9" fill="#2323ee" stroke="none" stroke-width="0.8"/>
<circle cx="448.90" cy="51.60" r="1.9" fill="#2323ee" stroke="none" stroke-width="0.8"/>
<circle cx="450.80" cy="54.00" r="1.9" fill="#2323ee" stroke="none" stroke-width="0.8"/>
<polyline points="279.30,116.50 279.60,119.50 280.50,116.50 283.90,115.00 291.80,114.40 299.70,113.10 304.90,112.30 315.40,113.10 328.60,114.40 335.10,114.00 344.30,112.30 348.90,112.30 354.80,114.70 362.70,116.30 366.00,117.30 370.00,118.50 374.00,119.50 376.60,123.00 377.50,124.00 378.20,126.50 380.00,124.00 385.00,123.80 392.00,123.50 398.00,123.80 404.00,123.20 410.00,123.00 414.00,122.50 416.00,120.50 418.00,119.20 424.00,119.20 426.00,121.50 428.00,122.00 434.00,122.00 440.00,122.30 446.00,122.60 451.00,122.60" fill="none" stroke="#ee1a1a" stroke-width="1.0" stroke-linejoin="round"/>
<rect x="278.20" y="115.40" width="2.20" height="2.20" fill="none" stroke="#ee1a1a" stroke-width="0.7"/>
<rect x="278.38" y="117.19" width="2.20" height="2.20" fill="none" stroke="#ee1a1a" stroke-width="0.7"/>
<rect x="278.67" y="117.84" width="2.20" height="2.20" fill="none" stroke="#ee1a1a" stroke-width="0.7"/>
<rect x="279.19" y="116.12" width="2.20" height="2.20" fill="none" stroke="#ee1a1a" stroke-width="0.7"/>
<rect x="280.36" y="114.97" width="2.20" height="2.20" fill="none" stroke="#ee1a1a" stroke-width="0.7"/>
<rect x="282.01" y="114.25" width="2.20" height="2.20" fill="none" stroke="#ee1a1a" stroke-width="0.7"/>
<rect x="283.73" y="113.83" width="2.20" height="2.20" fill="none" stroke="#ee1a1a" stroke-width="0.7"/>
<rect x="285.53" y="113.69" width="2.20" height="2.20" fill="none" stroke="#ee1a1a" stroke-width="0.7"/>
<rect x="287.32" y="113.56" width="2.20" height="2.20" fill="none" stroke="#ee1a1a" stroke-width="0.7"/>
<rect x="289.12" y="113.42" width="2.20" height="2.20" fill="none" stroke="#ee1a1a" stroke-width="0.7"/>
<rect x="290.91" y="113.27" width="2.20" height="2.20" fill="none" stroke="#ee1a1a" stroke-width="0.7"/>
<rect x="292.69" y="112.97" width="2.20" height="2.20" fill="none" stroke="#ee1a1a" stroke-width="0.7"/>
<rect x="294.46" y="112.68" width="2.20" height="2.20" fill="none" stroke="#ee1a1a" stroke-width="0.7"/>
<rect x="296.24" y="112.39" width="2.20" height="2.20" fill="none" stroke="#ee1a1a" stroke-width="0.7"/>
<rect x="298.02" y="112.10" width="2.20" height="2.20" fill="none" stroke="#ee1a1a" stroke-width="0.7"/>
<rect x="299.79" y="111.82" width="2.20" height="2.20" fill="none" stroke="#ee1a1a" stroke-width="0.7"/>
<rect x="301.57" y="111.54" width="2.20" height="2.20" fill="none" stroke="#ee1a1a" stroke-width="0.7"/>
<rect x="303.35" y="111.27" width="2.20" height="2.20" fill="none" stroke="#ee1a1a" stroke-width="0.7"/>
<rect x="305.14" y="111.30" width="2.20" height="2.20" fill="none" stroke="#ee1a1a" stroke-width="0.7"/>
<rect x="306.94" y="111.44" width="2.20" height="2.20" fill="none" stroke="#ee1a1a" stroke-width="0.7"/>
<rect x="308.73" y="111.58" width="2.20" height="2.20" fill="none" stroke="#ee1a1a" stroke-width="0.7"/>
<rect x="310.53" y="111.71" width="2.20" height="2.20" fill="none" stroke="#ee1a1a" stroke-width="0.7"/>
<rect x="312.32" y="111.85" width="2.20" height="2.20" fill="none" stroke="#ee1a1a" stroke-width="0.7"/>
<rect x="314.12" y="111.99" width="2.20" height="2.20" fill="none" stroke="#ee1a1a" stroke-width="0.7"/>
<rect x="315.91" y="112.16" width="2.20" height="2.20" fill="none" stroke="#ee1a1a" stroke-width="0.7"/>
<rect x="317.70" y="112.33" width="2.20" height="2.20" fill="none" stroke="#ee1a1a" stroke-width="0.7"/>
<rect x="319.49" y="112.51" width="2.20" height="2.20" fill="none" stroke="#ee1a1a" stroke-width="0.7"/>
<rect x="321.28" y="112.69" width="2.20" height="2.20" fill="none" stroke="#ee1a1a" stroke-width="0.7"/>
<rect x="323.07" y="112.86" width="2.20" height="2.20" fill="none" stroke="#ee1a1a" stroke-width="0.7"/>
<rect x="324.87" y="113.04" width="2.20" height="2.20" fill="none" stroke="#ee1a1a" stroke-width="0.7"/>
<rect x="326.66" y="113.22" width="2.20" height="2.20" fill="none" stroke="#ee1a1a" stroke-width="0.7"/>
<rect x="328.45" y="113.24" width="2.20" height="2.20" fill="none" stroke="#ee1a1a" stroke-width="0.7"/>
<rect x="330.25" y="113.13" width="2.20" height="2.20" fill="none" stroke="#ee1a1a" stroke-width="0.7"/>
<rect x="332.04" y="113.02" width="2.20" height="2.20" fill="none" stroke="#ee1a1a" stroke-width="0.7"/>
<rect x="333.84" y="112.91" width="2.20" height="2.20" fill="none" stroke="#ee1a1a" stroke-width="0.7"/>
<rect x="335.61" y="112.60" width="2.20" height="2.20" fill="none" stroke="#ee1a1a" stroke-width="0.7"/>
<rect x="337.38" y="112.27" width="2.20" height="2.20" fill="none" stroke="#ee1a1a" stroke-width="0.7"/>
<rect x="339.15" y="111.95" width="2.20" height="2.20" fill="none" stroke="#ee1a1a" stroke-width="0.7"/>
<rect x="340.92" y="111.62" width="2.20" height="2.20" fill="none" stroke="#ee1a1a" stroke-width="0.7"/>
<rect x="342.69" y="111.29" width="2.20" height="2.20" fill="none" stroke="#ee1a1a" stroke-width="0.7"/>
<rect x="344.48" y="111.20" width="2.20" height="2.20" fill="none" stroke="#ee1a1a" stroke-width="0.7"/>
<rect x="346.28" y="111.20" width="2.20" height="2.20" fill="none" stroke="#ee1a1a" stroke-width="0.7"/>
<rect x="348.06" y="111.31" width="2.20" height="2.20" fill="none" stroke="#ee1a1a" stroke-width="0.7"/>
<rect x="349.73" y="111.99" width="2.20" height="2.20" fill="none" stroke="#ee1a1a" stroke-width="0.7"/>
<rect x="351.40" y="112.66" width="2.20" height="2.20" fill="none" stroke="#ee1a1a" stroke-width="0.7"/>
<rect x="353.07" y="113.34" width="2.20" height="2.20" fill="none" stroke="#ee1a1a" stroke-width="0.7"/>
<rect x="354.79" y="113.82" width="2.20" height="2.20" fill="none" stroke="#ee1a1a" stroke-width="0.7"/>
<rect x="356.56" y="114.18" width="2.20" height="2.20" fill="none" stroke="#ee1a1a" stroke-width="0.7"/>
<rect x="358.32" y="114.54" width="2.20" height="2.20" fill="none" stroke="#ee1a1a" stroke-width="0.7"/>
<rect x="360.09" y="114.89" width="2.20" height="2.20" fill="none" stroke="#ee1a1a" stroke-width="0.7"/>
<rect x="361.84" y="115.27" width="2.20" height="2.20" fill="none" stroke="#ee1a1a" stroke-width="0.7"/>
<rect x="363.57" y="115.80" width="2.20" height="2.20" fill="none" stroke="#ee1a1a" stroke-width="0.7"/>
<rect x="365.29" y="116.32" width="2.20" height="2.20" fill="none" stroke="#ee1a1a" stroke-width="0.7"/>
<rect x="367.01" y="116.83" width="2.20" height="2.20" fill="none" stroke="#ee1a1a" stroke-width="0.7"/>
<rect x="368.74" y="117.35" width="2.20" height="2.20" fill="none" stroke="#ee1a1a" stroke-width="0.7"/>
<rect x="370.48" y="117.80" width="2.20" height="2.20" fill="none" stroke="#ee1a1a" stroke-width="0.7"/>
<rect x="372.23" y="118.23" width="2.20" height="2.20" fill="none" stroke="#ee1a1a" stroke-width="0.7"/>
<rect x="373.56" y="119.29" width="2.20" height="2.20" fill="none" stroke="#ee1a1a" stroke-width="0.7"/>
<rect x="374.63" y="120.73" width="2.20" height="2.20" fill="none" stroke="#ee1a1a" stroke-width="0.7"/>
<rect x="375.73" y="122.16" width="2.20" height="2.20" fill="none" stroke="#ee1a1a" stroke-width="0.7"/>
<rect x="376.62" y="123.67" width="2.20" height="2.20" fill="none" stroke="#ee1a1a" stroke-width="0.7"/>
<rect x="377.10" y="125.40" width="2.20" height="2.20" fill="none" stroke="#ee1a1a" stroke-width="0.7"/>
<rect x="378.15" y="123.93" width="2.20" height="2.20" fill="none" stroke="#ee1a1a" stroke-width="0.7"/>
<rect x="379.42" y="122.88" width="2.20" height="2.20" fill="none" stroke="#ee1a1a" stroke-width="0.7"/>
<rect x="381.22" y="122.81" width="2.20" height="2.20" fill="none" stroke="#ee1a1a" stroke-width="0.7"/>
<rect x="383.02" y="122.74" width="2.20" height="2.20" fill="none" stroke="#ee1a1a" stroke-width="0.7"/>
<rect x="384.82" y="122.66" width="2.20" height="2.20" fill="none" stroke="#ee1a1a" stroke-width="0.7"/>
<rect x="386.62" y="122.58" width="2.20" height="2.20" fill="none" stroke="#ee1a1a" stroke-width="0.7"/>
<rect x="388.42" y="122.51" width="2.20" height="2.20" fill="none" stroke="#ee1a1a" stroke-width="0.7"/>
<rect x="390.22" y="122.43" width="2.20" height="2.20" fill="none" stroke="#ee1a1a" stroke-width="0.7"/>
<rect x="392.01" y="122.46" width="2.20" height="2.20" fill="none" stroke="#ee1a1a" stroke-width="0.7"/>
<rect x="393.81" y="122.55" width="2.20" height="2.20" fill="none" stroke="#ee1a1a" stroke-width="0.7"/>
<rect x="395.61" y="122.64" width="2.20" height="2.20" fill="none" stroke="#ee1a1a" stroke-width="0.7"/>
<rect x="397.40" y="122.65" width="2.20" height="2.20" fill="none" stroke="#ee1a1a" stroke-width="0.7"/>
<rect x="399.20" y="122.47" width="2.20" height="2.20" fill="none" stroke="#ee1a1a" stroke-width="0.7"/>
<rect x="400.99" y="122.29" width="2.20" height="2.20" fill="none" stroke="#ee1a1a" stroke-width="0.7"/>
<rect x="402.78" y="122.11" width="2.20" height="2.20" fill="none" stroke="#ee1a1a" stroke-width="0.7"/>
<rect x="404.58" y="122.04" width="2.20" height="2.20" fill="none" stroke="#ee1a1a" stroke-width="0.7"/>
<rect x="406.38" y="121.98" width="2.20" height="2.20" fill="none" stroke="#ee1a1a" stroke-width="0.7"/>
<rect x="408.17" y="121.92" width="2.20" height="2.20" fill="none" stroke="#ee1a1a" stroke-width="0.7"/>
<rect x="409.97" y="121.77" width="2.20" height="2.20" fill="none" stroke="#ee1a1a" stroke-width="0.7"/>
<rect x="411.75" y="121.54" width="2.20" height="2.20" fill="none" stroke="#ee1a1a" stroke-width="0.7"/>
<rect x="413.35" y="120.95" width="2.20" height="2.20" fill="none" stroke="#ee1a1a" stroke-width="0.7"/>
<rect x="414.63" y="119.67" width="2.20" height="2.20" fill="none" stroke="#ee1a1a" stroke-width="0.7"/>
<rect x="416.09" y="118.63" width="2.20" height="2.20" fill="none" stroke="#ee1a1a" stroke-width="0.7"/>
<rect x="417.73" y="118.10" width="2.20" height="2.20" fill="none" stroke="#ee1a1a" stroke-width="0.7"/>
<rect x="419.53" y="118.10" width="2.20" height="2.20" fill="none" stroke="#ee1a1a" stroke-width="0.7"/>
<rect x="421.33" y="118.10" width="2.20" height="2.20" fill="none" stroke="#ee1a1a" stroke-width="0.7"/>
<rect x="423.05" y="118.27" width="2.20" height="2.20" fill="none" stroke="#ee1a1a" stroke-width="0.7"/>
<rect x="424.23" y="119.63" width="2.20" height="2.20" fill="none" stroke="#ee1a1a" stroke-width="0.7"/>
<rect x="425.66" y="120.59" width="2.20" height="2.20" fill="none" stroke="#ee1a1a" stroke-width="0.7"/>
<rect x="427.42" y="120.90" width="2.20" height="2.20" fill="none" stroke="#ee1a1a" stroke-width="0.7"/>
<rect x="429.22" y="120.90" width="2.20" height="2.20" fill="none" stroke="#ee1a1a" stroke-width="0.7"/>
<rect x="431.02" y="120.90" width="2.20" height="2.20" fill="none" stroke="#ee1a1a" stroke-width="0.7"/>
<rect x="432.82" y="120.90" width="2.20" height="2.20" fill="none" stroke="#ee1a1a" stroke-width="0.7"/>
<rect x="434.62" y="120.99" width="2.20" height="2.20" fill="none" stroke="#ee1a1a" stroke-width="0.7"/>
<rect x="436.41" y="121.08" width="2.20" height="2.20" fill="none" stroke="#ee1a1a" stroke-width="0.7"/>
<rect x="438.21" y="121.17" width="2.20" height="2.20" fill="none" stroke="#ee1a1a" stroke-width="0.7"/>
<rect x="440.01" y="121.26" width="2.20" height="2.20" fill="none" stroke="#ee1a1a" stroke-width="0.7"/>
<rect x="441.81" y="121.35" width="2.20" height="2.20" fill="none" stroke="#ee1a1a" stroke-width="0.7"/>
<rect x="443.61" y="121.44" width="2.20" height="2.20" fill="none" stroke="#ee1a1a" stroke-width="0.7"/>
<rect x="445.40" y="121.50" width="2.20" height="2.20" fill="none" stroke="#ee1a1a" stroke-width="0.7"/>
<rect x="447.20" y="121.50" width="2.20" height="2.20" fill="none" stroke="#ee1a1a" stroke-width="0.7"/>
<rect x="449.00" y="121.50" width="2.20" height="2.20" fill="none" stroke="#ee1a1a" stroke-width="0.7"/>
<line x1="516.30" y1="151.20" x2="516.30" y2="148.20" stroke="#5a5a5a" stroke-width="1"/>
<line x1="516.30" y1="6.70" x2="516.30" y2="9.70" stroke="#5a5a5a" stroke-width="1"/>
<line x1="528.16" y1="151.20" x2="528.16" y2="149.60" stroke="#5a5a5a" stroke-width="0.6"/>
<line x1="528.16" y1="6.70" x2="528.16" y2="8.30" stroke="#5a5a5a" stroke-width="0.6"/>
<line x1="535.10" y1="151.20" x2="535.10" y2="149.60" stroke="#5a5a5a" stroke-width="0.6"/>
<line x1="535.10" y1="6.70" x2="535.10" y2="8.30" stroke="#5a5a5a" stroke-width="0.6"/>
<line x1="540.02" y1="151.20" x2="540.02" y2="149.60" stroke="#5a5a5a" stroke-width="0.6"/>
<line x1="540.02" y1="6.70" x2="540.02" y2="8.30" stroke="#5a5a5a" stroke-width="0.6"/>
<line x1="543.84" y1="151.20" x2="543.84" y2="149.60" stroke="#5a5a5a" stroke-width="0.6"/>
<line x1="543.84" y1="6.70" x2="543.84" y2="8.30" stroke="#5a5a5a" stroke-width="0.6"/>
<line x1="546.96" y1="151.20" x2="546.96" y2="149.60" stroke="#5a5a5a" stroke-width="0.6"/>
<line x1="546.96" y1="6.70" x2="546.96" y2="8.30" stroke="#5a5a5a" stroke-width="0.6"/>
<line x1="549.60" y1="151.20" x2="549.60" y2="149.60" stroke="#5a5a5a" stroke-width="0.6"/>
<line x1="549.60" y1="6.70" x2="549.60" y2="8.30" stroke="#5a5a5a" stroke-width="0.6"/>
<line x1="551.88" y1="151.20" x2="551.88" y2="149.60" stroke="#5a5a5a" stroke-width="0.6"/>
<line x1="551.88" y1="6.70" x2="551.88" y2="8.30" stroke="#5a5a5a" stroke-width="0.6"/>
<line x1="553.90" y1="151.20" x2="553.90" y2="149.60" stroke="#5a5a5a" stroke-width="0.6"/>
<line x1="553.90" y1="6.70" x2="553.90" y2="8.30" stroke="#5a5a5a" stroke-width="0.6"/>
<line x1="555.70" y1="151.20" x2="555.70" y2="148.20" stroke="#5a5a5a" stroke-width="1"/>
<line x1="555.70" y1="6.70" x2="555.70" y2="9.70" stroke="#5a5a5a" stroke-width="1"/>
<line x1="567.56" y1="151.20" x2="567.56" y2="149.60" stroke="#5a5a5a" stroke-width="0.6"/>
<line x1="567.56" y1="6.70" x2="567.56" y2="8.30" stroke="#5a5a5a" stroke-width="0.6"/>
<line x1="574.50" y1="151.20" x2="574.50" y2="149.60" stroke="#5a5a5a" stroke-width="0.6"/>
<line x1="574.50" y1="6.70" x2="574.50" y2="8.30" stroke="#5a5a5a" stroke-width="0.6"/>
<line x1="579.42" y1="151.20" x2="579.42" y2="149.60" stroke="#5a5a5a" stroke-width="0.6"/>
<line x1="579.42" y1="6.70" x2="579.42" y2="8.30" stroke="#5a5a5a" stroke-width="0.6"/>
<line x1="583.24" y1="151.20" x2="583.24" y2="149.60" stroke="#5a5a5a" stroke-width="0.6"/>
<line x1="583.24" y1="6.70" x2="583.24" y2="8.30" stroke="#5a5a5a" stroke-width="0.6"/>
<line x1="586.36" y1="151.20" x2="586.36" y2="149.60" stroke="#5a5a5a" stroke-width="0.6"/>
<line x1="586.36" y1="6.70" x2="586.36" y2="8.30" stroke="#5a5a5a" stroke-width="0.6"/>
<line x1="589.00" y1="151.20" x2="589.00" y2="149.60" stroke="#5a5a5a" stroke-width="0.6"/>
<line x1="589.00" y1="6.70" x2="589.00" y2="8.30" stroke="#5a5a5a" stroke-width="0.6"/>
<line x1="591.28" y1="151.20" x2="591.28" y2="149.60" stroke="#5a5a5a" stroke-width="0.6"/>
<line x1="591.28" y1="6.70" x2="591.28" y2="8.30" stroke="#5a5a5a" stroke-width="0.6"/>
<line x1="593.30" y1="151.20" x2="593.30" y2="149.60" stroke="#5a5a5a" stroke-width="0.6"/>
<line x1="593.30" y1="6.70" x2="593.30" y2="8.30" stroke="#5a5a5a" stroke-width="0.6"/>
<line x1="595.10" y1="151.20" x2="595.10" y2="148.20" stroke="#5a5a5a" stroke-width="1"/>
<line x1="595.10" y1="6.70" x2="595.10" y2="9.70" stroke="#5a5a5a" stroke-width="1"/>
<line x1="606.96" y1="151.20" x2="606.96" y2="149.60" stroke="#5a5a5a" stroke-width="0.6"/>
<line x1="606.96" y1="6.70" x2="606.96" y2="8.30" stroke="#5a5a5a" stroke-width="0.6"/>
<line x1="613.90" y1="151.20" x2="613.90" y2="149.60" stroke="#5a5a5a" stroke-width="0.6"/>
<line x1="613.90" y1="6.70" x2="613.90" y2="8.30" stroke="#5a5a5a" stroke-width="0.6"/>
<line x1="618.82" y1="151.20" x2="618.82" y2="149.60" stroke="#5a5a5a" stroke-width="0.6"/>
<line x1="618.82" y1="6.70" x2="618.82" y2="8.30" stroke="#5a5a5a" stroke-width="0.6"/>
<line x1="622.64" y1="151.20" x2="622.64" y2="149.60" stroke="#5a5a5a" stroke-width="0.6"/>
<line x1="622.64" y1="6.70" x2="622.64" y2="8.30" stroke="#5a5a5a" stroke-width="0.6"/>
<line x1="625.76" y1="151.20" x2="625.76" y2="149.60" stroke="#5a5a5a" stroke-width="0.6"/>
<line x1="625.76" y1="6.70" x2="625.76" y2="8.30" stroke="#5a5a5a" stroke-width="0.6"/>
<line x1="628.40" y1="151.20" x2="628.40" y2="149.60" stroke="#5a5a5a" stroke-width="0.6"/>
<line x1="628.40" y1="6.70" x2="628.40" y2="8.30" stroke="#5a5a5a" stroke-width="0.6"/>
<line x1="630.68" y1="151.20" x2="630.68" y2="149.60" stroke="#5a5a5a" stroke-width="0.6"/>
<line x1="630.68" y1="6.70" x2="630.68" y2="8.30" stroke="#5a5a5a" stroke-width="0.6"/>
<line x1="632.70" y1="151.20" x2="632.70" y2="149.60" stroke="#5a5a5a" stroke-width="0.6"/>
<line x1="632.70" y1="6.70" x2="632.70" y2="8.30" stroke="#5a5a5a" stroke-width="0.6"/>
<line x1="634.50" y1="151.20" x2="634.50" y2="148.20" stroke="#5a5a5a" stroke-width="1"/>
<line x1="634.50" y1="6.70" x2="634.50" y2="9.70" stroke="#5a5a5a" stroke-width="1"/>
<line x1="646.36" y1="151.20" x2="646.36" y2="149.60" stroke="#5a5a5a" stroke-width="0.6"/>
<line x1="646.36" y1="6.70" x2="646.36" y2="8.30" stroke="#5a5a5a" stroke-width="0.6"/>
<line x1="653.30" y1="151.20" x2="653.30" y2="149.60" stroke="#5a5a5a" stroke-width="0.6"/>
<line x1="653.30" y1="6.70" x2="653.30" y2="8.30" stroke="#5a5a5a" stroke-width="0.6"/>
<line x1="658.22" y1="151.20" x2="658.22" y2="149.60" stroke="#5a5a5a" stroke-width="0.6"/>
<line x1="658.22" y1="6.70" x2="658.22" y2="8.30" stroke="#5a5a5a" stroke-width="0.6"/>
<line x1="662.04" y1="151.20" x2="662.04" y2="149.60" stroke="#5a5a5a" stroke-width="0.6"/>
<line x1="662.04" y1="6.70" x2="662.04" y2="8.30" stroke="#5a5a5a" stroke-width="0.6"/>
<line x1="665.16" y1="151.20" x2="665.16" y2="149.60" stroke="#5a5a5a" stroke-width="0.6"/>
<line x1="665.16" y1="6.70" x2="665.16" y2="8.30" stroke="#5a5a5a" stroke-width="0.6"/>
<line x1="667.80" y1="151.20" x2="667.80" y2="149.60" stroke="#5a5a5a" stroke-width="0.6"/>
<line x1="667.80" y1="6.70" x2="667.80" y2="8.30" stroke="#5a5a5a" stroke-width="0.6"/>
<line x1="670.08" y1="151.20" x2="670.08" y2="149.60" stroke="#5a5a5a" stroke-width="0.6"/>
<line x1="670.08" y1="6.70" x2="670.08" y2="8.30" stroke="#5a5a5a" stroke-width="0.6"/>
<line x1="672.10" y1="151.20" x2="672.10" y2="149.60" stroke="#5a5a5a" stroke-width="0.6"/>
<line x1="672.10" y1="6.70" x2="672.10" y2="8.30" stroke="#5a5a5a" stroke-width="0.6"/>
<line x1="673.90" y1="151.20" x2="673.90" y2="148.20" stroke="#5a5a5a" stroke-width="1"/>
<line x1="673.90" y1="6.70" x2="673.90" y2="9.70" stroke="#5a5a5a" stroke-width="1"/>
<line x1="507.56" y1="151.20" x2="507.56" y2="149.60" stroke="#5a5a5a" stroke-width="0.6"/>
<line x1="507.56" y1="6.70" x2="507.56" y2="8.30" stroke="#5a5a5a" stroke-width="0.6"/>
<line x1="510.20" y1="151.20" x2="510.20" y2="149.60" stroke="#5a5a5a" stroke-width="0.6"/>
<line x1="510.20" y1="6.70" x2="510.20" y2="8.30" stroke="#5a5a5a" stroke-width="0.6"/>
<line x1="512.48" y1="151.20" x2="512.48" y2="149.60" stroke="#5a5a5a" stroke-width="0.6"/>
<line x1="512.48" y1="6.70" x2="512.48" y2="8.30" stroke="#5a5a5a" stroke-width="0.6"/>
<line x1="514.50" y1="151.20" x2="514.50" y2="149.60" stroke="#5a5a5a" stroke-width="0.6"/>
<line x1="514.50" y1="6.70" x2="514.50" y2="8.30" stroke="#5a5a5a" stroke-width="0.6"/>
<line x1="503.70" y1="151.20" x2="506.70" y2="151.20" stroke="#5a5a5a" stroke-width="1"/>
<line x1="682.30" y1="151.20" x2="679.30" y2="151.20" stroke="#5a5a5a" stroke-width="1"/>
<line x1="503.70" y1="88.45" x2="506.70" y2="88.45" stroke="#5a5a5a" stroke-width="1"/>
<line x1="682.30" y1="88.45" x2="679.30" y2="88.45" stroke="#5a5a5a" stroke-width="1"/>
<line x1="503.70" y1="25.70" x2="506.70" y2="25.70" stroke="#5a5a5a" stroke-width="1"/>
<line x1="682.30" y1="25.70" x2="679.30" y2="25.70" stroke="#5a5a5a" stroke-width="1"/>
<line x1="503.70" y1="132.31" x2="505.30" y2="132.31" stroke="#5a5a5a" stroke-width="0.6"/>
<line x1="682.30" y1="132.31" x2="680.70" y2="132.31" stroke="#5a5a5a" stroke-width="0.6"/>
<line x1="503.70" y1="121.26" x2="505.30" y2="121.26" stroke="#5a5a5a" stroke-width="0.6"/>
<line x1="682.30" y1="121.26" x2="680.70" y2="121.26" stroke="#5a5a5a" stroke-width="0.6"/>
<line x1="503.70" y1="113.42" x2="505.30" y2="113.42" stroke="#5a5a5a" stroke-width="0.6"/>
<line x1="682.30" y1="113.42" x2="680.70" y2="113.42" stroke="#5a5a5a" stroke-width="0.6"/>
<line x1="503.70" y1="107.34" x2="505.30" y2="107.34" stroke="#5a5a5a" stroke-width="0.6"/>
<line x1="682.30" y1="107.34" x2="680.70" y2="107.34" stroke="#5a5a5a" stroke-width="0.6"/>
<line x1="503.70" y1="102.37" x2="505.30" y2="102.37" stroke="#5a5a5a" stroke-width="0.6"/>
<line x1="682.30" y1="102.37" x2="680.70" y2="102.37" stroke="#5a5a5a" stroke-width="0.6"/>
<line x1="503.70" y1="98.17" x2="505.30" y2="98.17" stroke="#5a5a5a" stroke-width="0.6"/>
<line x1="682.30" y1="98.17" x2="680.70" y2="98.17" stroke="#5a5a5a" stroke-width="0.6"/>
<line x1="503.70" y1="94.53" x2="505.30" y2="94.53" stroke="#5a5a5a" stroke-width="0.6"/>
<line x1="682.30" y1="94.53" x2="680.70" y2="94.53" stroke="#5a5a5a" stroke-width="0.6"/>
<line x1="503.70" y1="91.32" x2="505.30" y2="91.32" stroke="#5a5a5a" stroke-width="0.6"/>
<line x1="682.30" y1="91.32" x2="680.70" y2="91.32" stroke="#5a5a5a" stroke-width="0.6"/>
<line x1="503.70" y1="69.56" x2="505.30" y2="69.56" stroke="#5a5a5a" stroke-width="0.6"/>
<line x1="682.30" y1="69.56" x2="680.70" y2="69.56" stroke="#5a5a5a" stroke-width="0.6"/>
<line x1="503.70" y1="58.51" x2="505.30" y2="58.51" stroke="#5a5a5a" stroke-width="0.6"/>
<line x1="682.30" y1="58.51" x2="680.70" y2="58.51" stroke="#5a5a5a" stroke-width="0.6"/>
<line x1="503.70" y1="50.67" x2="505.30" y2="50.67" stroke="#5a5a5a" stroke-width="0.6"/>
<line x1="682.30" y1="50.67" x2="680.70" y2="50.67" stroke="#5a5a5a" stroke-width="0.6"/>
<line x1="503.70" y1="44.59" x2="505.30" y2="44.59" stroke="#5a5a5a" stroke-width="0.6"/>
<line x1="682.30" y1="44.59" x2="680.70" y2="44.59" stroke="#5a5a5a" stroke-width="0.6"/>
<line x1="503.70" y1="39.62" x2="505.30" y2="39.62" stroke="#5a5a5a" stroke-width="0.6"/>
<line x1="682.30" y1="39.62" x2="680.70" y2="39.62" stroke="#5a5a5a" stroke-width="0.6"/>
<line x1="503.70" y1="35.42" x2="505.30" y2="35.42" stroke="#5a5a5a" stroke-width="0.6"/>
<line x1="682.30" y1="35.42" x2="680.70" y2="35.42" stroke="#5a5a5a" stroke-width="0.6"/>
<line x1="503.70" y1="31.78" x2="505.30" y2="31.78" stroke="#5a5a5a" stroke-width="0.6"/>
<line x1="682.30" y1="31.78" x2="680.70" y2="31.78" stroke="#5a5a5a" stroke-width="0.6"/>
<line x1="503.70" y1="28.57" x2="505.30" y2="28.57" stroke="#5a5a5a" stroke-width="0.6"/>
<line x1="682.30" y1="28.57" x2="680.70" y2="28.57" stroke="#5a5a5a" stroke-width="0.6"/>
<rect x="503.70" y="6.70" width="178.60" height="144.50" fill="none" stroke="#5a5a5a" stroke-width="1.4"/>
<text x="514.00" y="164.60" font-size="10.6" text-anchor="middle" fill="#2a2a2a">10</text>
<text x="520.00" y="160.20" font-size="7.2" text-anchor="start" fill="#2a2a2a" style="stroke-width:0.1px">0</text>
<text x="553.40" y="164.60" font-size="10.6" text-anchor="middle" fill="#2a2a2a">10</text>
<text x="559.40" y="160.20" font-size="7.2" text-anchor="start" fill="#2a2a2a" style="stroke-width:0.1px">1</text>
<text x="592.80" y="164.60" font-size="10.6" text-anchor="middle" fill="#2a2a2a">10</text>
<text x="598.80" y="160.20" font-size="7.2" text-anchor="start" fill="#2a2a2a" style="stroke-width:0.1px">2</text>
<text x="632.20" y="164.60" font-size="10.6" text-anchor="middle" fill="#2a2a2a">10</text>
<text x="638.20" y="160.20" font-size="7.2" text-anchor="start" fill="#2a2a2a" style="stroke-width:0.1px">3</text>
<text x="671.60" y="164.60" font-size="10.6" text-anchor="middle" fill="#2a2a2a">10</text>
<text x="677.60" y="160.20" font-size="7.2" text-anchor="start" fill="#2a2a2a" style="stroke-width:0.1px">4</text>
<text x="495.70" y="155.20" font-size="10.4" text-anchor="end" fill="#2a2a2a">10</text>
<text x="495.80" y="151.00" font-size="7.2" text-anchor="start" fill="#2a2a2a" style="stroke-width:0.1px">4</text>
<text x="495.70" y="92.45" font-size="10.4" text-anchor="end" fill="#2a2a2a">10</text>
<text x="495.80" y="88.25" font-size="7.2" text-anchor="start" fill="#2a2a2a" style="stroke-width:0.1px">5</text>
<text x="495.70" y="29.70" font-size="10.4" text-anchor="end" fill="#2a2a2a">10</text>
<text x="495.80" y="25.50" font-size="7.2" text-anchor="start" fill="#2a2a2a" style="stroke-width:0.1px">6</text>
<text x="593.30" y="176.10" font-size="10.9" text-anchor="middle" fill="#2a2a2a">No. of cycles</text>
<text x="479.60" y="81.80" font-size="10.8" text-anchor="middle" fill="#2a2a2a" transform="rotate(-90 479.60 81.80)">Resistance (&#937;)</text>
<text x="466.40" y="18.50" font-size="17.5" text-anchor="start" fill="#111" font-weight="bold" style="stroke-width:0px">(c)</text>
<text x="515.60" y="41.60" font-size="10.8" text-anchor="start" fill="#2a2a2a">HRS (read at 50 mV)</text>
<text x="512.20" y="112.30" font-size="10.8" text-anchor="start" fill="#2a2a2a">LRS (read at 50 mV)</text>
<polyline points="516.00,25.80 528.10,27.10 534.40,27.90 539.20,28.40 548.40,26.30 554.40,27.10 562.80,25.20 570.70,26.30 578.10,27.90 586.50,26.80 593.80,25.80 600.90,28.90 608.80,28.90 616.70,28.40 624.60,28.90 632.50,28.90 640.30,28.90 648.20,28.90 655.60,28.90 663.20,28.90 670.60,28.90" fill="none" stroke="#1a1aee" stroke-width="1.4" stroke-linejoin="round"/>
<polyline points="516.00,117.40 528.10,123.10 534.40,125.20 539.20,123.10 548.40,124.50 554.40,121.00 562.80,123.10 570.70,126.30 578.10,121.60 586.50,130.50 593.80,123.70 600.90,125.80 608.80,120.50 616.70,129.70 624.60,127.10 632.50,131.00 640.30,137.60 648.20,132.30 655.60,140.50 663.20,140.70 670.60,140.70" fill="none" stroke="#ee1a1a" stroke-width="1.4" stroke-linejoin="round"/>
<circle cx="516.00" cy="25.80" r="2.2" fill="#6a6aff" stroke="#1a1aee" stroke-width="1.0"/>
<circle cx="528.10" cy="27.10" r="2.2" fill="#6a6aff" stroke="#1a1aee" stroke-width="1.0"/>
<circle cx="534.40" cy="27.90" r="2.2" fill="#6a6aff" stroke="#1a1aee" stroke-width="1.0"/>
<circle cx="539.20" cy="28.40" r="2.2" fill="#6a6aff" stroke="#1a1aee" stroke-width="1.0"/>
<circle cx="548.40" cy="26.30" r="2.2" fill="#6a6aff" stroke="#1a1aee" stroke-width="1.0"/>
<circle cx="554.40" cy="27.10" r="2.2" fill="#6a6aff" stroke="#1a1aee" stroke-width="1.0"/>
<circle cx="562.80" cy="25.20" r="2.2" fill="#6a6aff" stroke="#1a1aee" stroke-width="1.0"/>
<circle cx="570.70" cy="26.30" r="2.2" fill="#6a6aff" stroke="#1a1aee" stroke-width="1.0"/>
<circle cx="578.10" cy="27.90" r="2.2" fill="#6a6aff" stroke="#1a1aee" stroke-width="1.0"/>
<circle cx="586.50" cy="26.80" r="2.2" fill="#6a6aff" stroke="#1a1aee" stroke-width="1.0"/>
<circle cx="593.80" cy="25.80" r="2.2" fill="#6a6aff" stroke="#1a1aee" stroke-width="1.0"/>
<circle cx="600.90" cy="28.90" r="2.2" fill="#6a6aff" stroke="#1a1aee" stroke-width="1.0"/>
<circle cx="608.80" cy="28.90" r="2.2" fill="#6a6aff" stroke="#1a1aee" stroke-width="1.0"/>
<circle cx="616.70" cy="28.40" r="2.2" fill="#6a6aff" stroke="#1a1aee" stroke-width="1.0"/>
<circle cx="624.60" cy="28.90" r="2.2" fill="#6a6aff" stroke="#1a1aee" stroke-width="1.0"/>
<circle cx="632.50" cy="28.90" r="2.2" fill="#6a6aff" stroke="#1a1aee" stroke-width="1.0"/>
<circle cx="640.30" cy="28.90" r="2.2" fill="#6a6aff" stroke="#1a1aee" stroke-width="1.0"/>
<circle cx="648.20" cy="28.90" r="2.2" fill="#6a6aff" stroke="#1a1aee" stroke-width="1.0"/>
<circle cx="655.60" cy="28.90" r="2.2" fill="#6a6aff" stroke="#1a1aee" stroke-width="1.0"/>
<circle cx="663.20" cy="28.90" r="2.2" fill="#6a6aff" stroke="#1a1aee" stroke-width="1.0"/>
<circle cx="670.60" cy="28.90" r="2.2" fill="#6a6aff" stroke="#1a1aee" stroke-width="1.0"/>
<circle cx="516.00" cy="117.40" r="2.2" fill="#ff6a6a" stroke="#ee1a1a" stroke-width="1.0"/>
<circle cx="528.10" cy="123.10" r="2.2" fill="#ff6a6a" stroke="#ee1a1a" stroke-width="1.0"/>
<circle cx="534.40" cy="125.20" r="2.2" fill="#ff6a6a" stroke="#ee1a1a" stroke-width="1.0"/>
<circle cx="539.20" cy="123.10" r="2.2" fill="#ff6a6a" stroke="#ee1a1a" stroke-width="1.0"/>
<circle cx="548.40" cy="124.50" r="2.2" fill="#ff6a6a" stroke="#ee1a1a" stroke-width="1.0"/>
<circle cx="554.40" cy="121.00" r="2.2" fill="#ff6a6a" stroke="#ee1a1a" stroke-width="1.0"/>
<circle cx="562.80" cy="123.10" r="2.2" fill="#ff6a6a" stroke="#ee1a1a" stroke-width="1.0"/>
<circle cx="570.70" cy="126.30" r="2.2" fill="#ff6a6a" stroke="#ee1a1a" stroke-width="1.0"/>
<circle cx="578.10" cy="121.60" r="2.2" fill="#ff6a6a" stroke="#ee1a1a" stroke-width="1.0"/>
<circle cx="586.50" cy="130.50" r="2.2" fill="#ff6a6a" stroke="#ee1a1a" stroke-width="1.0"/>
<circle cx="593.80" cy="123.70" r="2.2" fill="#ff6a6a" stroke="#ee1a1a" stroke-width="1.0"/>
<circle cx="600.90" cy="125.80" r="2.2" fill="#ff6a6a" stroke="#ee1a1a" stroke-width="1.0"/>
<circle cx="608.80" cy="120.50" r="2.2" fill="#ff6a6a" stroke="#ee1a1a" stroke-width="1.0"/>
<circle cx="616.70" cy="129.70" r="2.2" fill="#ff6a6a" stroke="#ee1a1a" stroke-width="1.0"/>
<circle cx="624.60" cy="127.10" r="2.2" fill="#ff6a6a" stroke="#ee1a1a" stroke-width="1.0"/>
<circle cx="632.50" cy="131.00" r="2.2" fill="#ff6a6a" stroke="#ee1a1a" stroke-width="1.0"/>
<circle cx="640.30" cy="137.60" r="2.2" fill="#ff6a6a" stroke="#ee1a1a" stroke-width="1.0"/>
<circle cx="648.20" cy="132.30" r="2.2" fill="#ff6a6a" stroke="#ee1a1a" stroke-width="1.0"/>
<circle cx="655.60" cy="140.50" r="2.2" fill="#ff6a6a" stroke="#ee1a1a" stroke-width="1.0"/>
<circle cx="663.20" cy="140.70" r="2.2" fill="#ff6a6a" stroke="#ee1a1a" stroke-width="1.0"/>
<circle cx="670.60" cy="140.70" r="2.2" fill="#ff6a6a" stroke="#ee1a1a" stroke-width="1.0"/>
<rect x="610.60" y="45.00" width="71.40" height="57.70" fill="#fff" stroke="#777" stroke-width="0.8"/>
<line x1="681.50" y1="54.70" x2="679.80" y2="54.70" stroke="#777" stroke-width="0.6"/>
<line x1="681.50" y1="64.50" x2="679.80" y2="64.50" stroke="#777" stroke-width="0.6"/>
<line x1="681.50" y1="74.30" x2="679.80" y2="74.30" stroke="#777" stroke-width="0.6"/>
<line x1="681.50" y1="84.00" x2="679.80" y2="84.00" stroke="#777" stroke-width="0.6"/>
<line x1="681.50" y1="93.80" x2="679.80" y2="93.80" stroke="#777" stroke-width="0.6"/>
<line x1="620.00" y1="102.70" x2="620.00" y2="101.00" stroke="#777" stroke-width="0.6"/>
<line x1="630.00" y1="102.70" x2="630.00" y2="101.00" stroke="#777" stroke-width="0.6"/>
<line x1="640.00" y1="102.70" x2="640.00" y2="101.00" stroke="#777" stroke-width="0.6"/>
<line x1="650.00" y1="102.70" x2="650.00" y2="101.00" stroke="#777" stroke-width="0.6"/>
<line x1="660.00" y1="102.70" x2="660.00" y2="101.00" stroke="#777" stroke-width="0.6"/>
<line x1="670.00" y1="102.70" x2="670.00" y2="101.00" stroke="#777" stroke-width="0.6"/>
<polyline points="613.8,74.3 621.6,74.3 621.6,93.8 628.6,93.8 628.6,74.3 635.4,74.3 636.2,73.2 642,73.2 642.8,74.3 651,74.3 651,54.7 657.5,54.7 657.5,74.3 665,74.3 665.8,73.2 671.5,73.2 672.3,74.3 679.7,74.3" fill="none" stroke="#333" stroke-width="1.3"/>
<text x="653.80" y="51.60" font-size="7.6" text-anchor="middle" fill="#2a2a2a" style="stroke-width:0.1px">Erase</text>
<text x="641.00" y="70.30" font-size="7.6" text-anchor="middle" fill="#2a2a2a" style="stroke-width:0.1px">Read</text>
<text x="667.70" y="70.30" font-size="7.6" text-anchor="middle" fill="#2a2a2a" style="stroke-width:0.1px">Read</text>
<text x="660.50" y="90.20" font-size="7.6" text-anchor="middle" fill="#2a2a2a" style="stroke-width:0.1px">Pulse width</text>
<text x="660.50" y="98.80" font-size="7.6" text-anchor="middle" fill="#2a2a2a" style="stroke-width:0.1px">0.2 ms</text>
<text x="624.40" y="101.30" font-size="7.6" text-anchor="middle" fill="#2a2a2a" style="stroke-width:0.1px">Write</text>
<text x="5.60" y="222.10" font-size="17.5" text-anchor="start" fill="#111" font-weight="bold" style="stroke-width:0px">(d)</text>
<defs>
<filter id="blr" x="-5%" y="-5%" width="110%" height="110%"><feGaussianBlur stdDeviation="0.5"/></filter>
<clipPath id="ph"><rect x="51.8" y="209" width="118.2" height="152.7"/></clipPath>
<linearGradient id="bg" x1="0" y1="0" x2="0" y2="1"><stop offset="0" stop-color="#dadcdf"/><stop offset="1" stop-color="#cfd2d6"/></linearGradient>
<linearGradient id="cloth" x1="0" y1="0" x2="0" y2="1"><stop offset="0" stop-color="#3f78c9"/><stop offset="0.5" stop-color="#3568b8"/><stop offset="1" stop-color="#2a56a6"/></linearGradient>
<linearGradient id="film" x1="0" y1="0" x2="1" y2="1"><stop offset="0" stop-color="#4a3022"/><stop offset="0.55" stop-color="#3e2a22"/><stop offset="1" stop-color="#56402f"/></linearGradient>
<radialGradient id="shine" cx="0.5" cy="0.5" r="0.5"><stop offset="0" stop-color="#d8cfd8" stop-opacity="0.9"/><stop offset="1" stop-color="#d8cfd8" stop-opacity="0"/></radialGradient>
<linearGradient id="cbar" x1="0" y1="1" x2="0" y2="0"><stop offset="0" stop-color="#000"/><stop offset="0.5" stop-color="#7a0000"/><stop offset="1" stop-color="#ff0000"/></linearGradient>
</defs>
<g clip-path="url(#ph)"><g filter="url(#blr)">
<rect x="51.80" y="209.00" width="118.20" height="152.70" fill="#dadcde" stroke="none" stroke-width="1"/>
<path d="M67.8,338.5 C66.5,325 66.3,318 66.5,310 C67,295 68,285 69,275 C69.5,265 70,257 71,249 C72.5,244 74,241 76,238 C78,235 80,233 82,231 C84,227 86,224 88,220 C90,217 92.5,214 95,211 C98,210.7 101,210.8 104,211 C107,211.3 109.5,211.6 112,212 C115,214 117.5,215.5 120,217 C122,219 124,221 126,223 C128,225 129.5,227 131,229 C133,231 134.5,233 136,235 C137.5,237 139,239 140,241 C141,243 142,245 143,247 C144,252 144.7,256 145,261 C145.6,268 146,274 146,280 C146,287 145.9,294 145.5,300 C144.8,306 144,312 143,318 C142,323 140.5,328 139,332 C137.5,335 136,338 134,340 C130,346 126,352 122,357 C116,351 110,345 104.6,339 Z" fill="#d1d3d6"/>
<path d="M80,236 C83,231 86,228 89,224 M98,215 L101,217" stroke="#a9acb0" stroke-width="0.8" fill="none"/>
<path d="M51.8,240.8 C56,240 60,240.5 64,243 C67,245.5 70,247.5 73,248.2 L139,244.5 C150,245.5 160,246.2 170,245.8 L170,362 L51.8,362 Z" fill="#2e5aa6"/>
<path d="M150,248 C158,250 165,252 170,252 L170,300 C162,298 155,292 150,285 Z" fill="#3565b4" opacity="0.6"/>
<path d="M145,255 L149,256 C150,275 150,300 148,325 L143,330 Z" fill="#1f3d7c" opacity="0.7"/>
<path d="M51.8,240.8 C56,240 60,240.5 64,243 C67,245.5 70,247.5 71.5,248.5 C70,265 68.5,285 67,306 C66.6,318 67,328 67.8,338.5 C62,342 57,345 51.8,347 Z" fill="#3a83d6"/>
<ellipse cx="65" cy="252.5" rx="2.4" ry="2.8" fill="#1d3e78" opacity="0.85"/>
<path d="M71.5,248.5 L90,250 C88,252 86.5,253.5 85,255 C83,259 81.5,263 80,267 C79,273 78.3,279 78,285 C78.2,290 79,296 80.3,302 L67,306 C68,295 68.5,285 69,275 C69.5,265 70.3,257 71.5,248.5 Z" fill="#2f5a9e"/>
<path d="M126,245 L143,247 C144,252 144.7,256 145,261 C145.6,268 146,274 146,280 C146,287 145.9,294 145.5,300 C144.8,306 144,312 143,318 C142,323 140.5,328 139,332 C137.5,335 136,338 134,340 L125.6,331.5 C127.5,328 129.5,324 131,320 C133,315 134.5,311 136,306 C137,302 138.2,299 139,296 C140,292 140.7,288 141,285 C141,277 140.7,269 140,261 C138,257 136,253 134,249 C131,247 128.5,246 126,245 Z" fill="#29498a"/>
<path d="M67,306 L80.3,302 C85,307 90,312 95,317 C100,320.5 105,324 110,327 C114,329.5 118,332 122,335 L126,338.5 L67.8,338.5 Z" fill="#3f62a8"/>
<path d="M51.8,347 C57,345 62,342 67.8,338.5 L143,338.5 C152,337 160,336.5 170,336 L170,362 L51.8,362 Z" fill="#2b51a2"/>
<path d="M51.8,352 L170,350 L170,362 L51.8,362 Z" fill="#284c9e"/>
<path d="M104.6,339 L122,357 L134,340 L128,341 L122,351 L110,339 Z" fill="#7d93c0" opacity="0.18"/>
<path d="M90,250 L104,229.5 L126,245 C129,246.3 131.5,247.5 134,249 C136.5,253 138.5,257 140,261 C140.7,269 141,277 141,285 C140.7,288 140,292 139,296 C138.2,299 137,302 136,306 C134.5,311 133,315 131,320 C129.5,324 127.5,328 125.6,331.5 L122,335 C118,332 114,329.5 110,327 C105,324 100,320.5 95,317 C90,312 85,307 80.3,302 C79,296 78.2,290 78,285 C78.3,279 79,273 80,267 C81.5,263 83,259 85,255 C86.5,253.5 88,252 90,250 Z" fill="#46332d"/>
<path d="M106,276 C116,282 128,290 135,300 C133,312 129,324 122,334 C116,330 111,326 108,318 C105,305 104,290 106,276 Z" fill="#6b5a62" opacity="0.5"/>
<path d="M90,250 L104,229.5 L126,245 C118,245.5 106,247 90,250 Z" fill="#c8722c"/>
<path d="M96,242 L104,231 L118,240 C110,240.5 102,241.2 96,242 Z" fill="#d8883a" opacity="0.6"/>
<path d="M111.6,314 C115,320 119,328 122,335 L120,336 C117,329 113,321 110.5,315 Z" fill="#e6e0ea" opacity="0.8"/>
<ellipse cx="116" cy="342" rx="1.6" ry="3" fill="#f2f2f6" opacity="0.85"/>
<ellipse cx="116" cy="303" rx="4" ry="12" fill="url(#shine)" opacity="0.6"/>
<path d="M71.5,305 L72.5,318 M74.5,304 L75.5,316" stroke="#1e1e2a" stroke-width="1.4"/>
<path d="M133.03,253.38 L95.03,299.38" fill="none" stroke="#d6c8a6" stroke-width="0.55" opacity="0.95"/>
<path d="M134.34,254.46 L96.34,300.46" fill="none" stroke="#d6c8a6" stroke-width="0.55" opacity="0.95"/>
<path d="M135.66,255.54 L97.66,301.54" fill="none" stroke="#d6c8a6" stroke-width="0.55" opacity="0.95"/>
<path d="M136.97,256.62 L98.97,302.62" fill="none" stroke="#d6c8a6" stroke-width="0.55" opacity="0.95"/>
<path d="M95,299.4 L80,318 M96.3,300.5 L89,319 L86.5,327 M97.7,301.6 L98,324 L95.5,334 M99,302.6 L104,316" fill="none" stroke="#d6c8a6" stroke-width="0.6" opacity="0.9"/>
<path d="M133,253.4 C131,246 129,238 127.5,231 M134.3,254.5 C134.5,248 134.5,241 134.5,237 M135.7,255.6 C137.5,252 139.5,248 140.6,245 M137,256.6 C139,254.5 141,252.5 143,250" fill="none" stroke="#c8b878" stroke-width="0.6" opacity="0.9"/>
<rect x="76.90" y="318.70" width="4.60" height="4.60" fill="#d3c08c" stroke="none" stroke-width="1"/>
<rect x="83.90" y="326.60" width="4.60" height="4.60" fill="#d3c08c" stroke="none" stroke-width="1"/>
<rect x="92.60" y="333.60" width="4.60" height="4.60" fill="#d3c08c" stroke="none" stroke-width="1"/>
<rect x="125.20" y="227.70" width="4.60" height="4.60" fill="#d3c08c" stroke="none" stroke-width="1"/>
<rect x="132.20" y="234.30" width="4.60" height="4.60" fill="#d3c08c" stroke="none" stroke-width="1"/>
<rect x="138.30" y="242.20" width="4.60" height="4.60" fill="#d3c08c" stroke="none" stroke-width="1"/>
<path d="M67.8,338.5 C66.5,325 66.3,318 66.5,310 C67,295 68,285 69,275 C69.5,265 70,257 71,249 C72.5,244 74,241 76,238 C78,235 80,233 82,231 C84,227 86,224 88,220 C90,217 92.5,214 95,211 C98,210.7 101,210.8 104,211 C107,211.3 109.5,211.6 112,212 C115,214 117.5,215.5 120,217 C122,219 124,221 126,223 C128,225 129.5,227 131,229 C133,231 134.5,233 136,235 C137.5,237 139,239 140,241 C141,243 142,245 143,247 C144,252 144.7,256 145,261 C145.6,268 146,274 146,280 C146,287 145.9,294 145.5,300 C144.8,306 144,312 143,318 C142,323 140.5,328 139,332 C137.5,335 136,338 134,340 C130,346 126,352 122,357 C116,351 110,345 104.6,339 Z" fill="none" stroke="#8c9098" stroke-width="0.5" opacity="0.8"/>
</g></g>
<rect x="211.70" y="208.00" width="38.08" height="36.40" fill="#ffffff" stroke="none" stroke-width="1"/>
<rect x="249.47" y="208.00" width="38.08" height="36.40" fill="#220303" stroke="none" stroke-width="1"/>
<rect x="287.25" y="208.00" width="38.08" height="36.40" fill="#150202" stroke="none" stroke-width="1"/>
<rect x="325.02" y="208.00" width="38.08" height="36.40" fill="#060000" stroke="none" stroke-width="1"/>
<rect x="211.70" y="244.10" width="38.08" height="36.40" fill="#000000" stroke="none" stroke-width="1"/>
<rect x="249.47" y="244.10" width="38.08" height="36.40" fill="#ffffff" stroke="none" stroke-width="1"/>
<rect x="287.25" y="244.10" width="38.08" height="36.40" fill="#1a0202" stroke="none" stroke-width="1"/>
<rect x="325.02" y="244.10" width="38.08" height="36.40" fill="#2e0404" stroke="none" stroke-width="1"/>
<rect x="211.70" y="280.20" width="38.08" height="36.40" fill="#dd0000" stroke="none" stroke-width="1"/>
<rect x="249.47" y="280.20" width="38.08" height="36.40" fill="#a80000" stroke="none" stroke-width="1"/>
<rect x="287.25" y="280.20" width="38.08" height="36.40" fill="#ff0000" stroke="none" stroke-width="1"/>
<rect x="325.02" y="280.20" width="38.08" height="36.40" fill="#cc0000" stroke="none" stroke-width="1"/>
<rect x="211.70" y="316.30" width="38.08" height="36.40" fill="#130101" stroke="none" stroke-width="1"/>
<rect x="249.47" y="316.30" width="38.08" height="36.40" fill="#030000" stroke="none" stroke-width="1"/>
<rect x="287.25" y="316.30" width="38.08" height="36.40" fill="#230303" stroke="none" stroke-width="1"/>
<rect x="325.02" y="316.30" width="38.08" height="36.40" fill="#0d0000" stroke="none" stroke-width="1"/>
<rect x="211.70" y="208.00" width="151.10" height="144.40" fill="none" stroke="#222" stroke-width="0.8"/>
<line x1="211.70" y1="334.35" x2="208.70" y2="334.35" stroke="#333" stroke-width="0.8"/>
<text x="206.20" y="338.05" font-size="10.3" text-anchor="end" fill="#2a2a2a">1</text>
<line x1="230.59" y1="352.40" x2="230.59" y2="355.40" stroke="#333" stroke-width="0.8"/>
<text x="234.29" y="360.90" font-size="10.3" text-anchor="middle" fill="#2a2a2a" transform="rotate(-90 234.29 360.90)">1</text>
<line x1="211.70" y1="298.25" x2="208.70" y2="298.25" stroke="#333" stroke-width="0.8"/>
<text x="206.20" y="301.95" font-size="10.3" text-anchor="end" fill="#2a2a2a">2</text>
<line x1="268.36" y1="352.40" x2="268.36" y2="355.40" stroke="#333" stroke-width="0.8"/>
<text x="272.06" y="360.90" font-size="10.3" text-anchor="middle" fill="#2a2a2a" transform="rotate(-90 272.06 360.90)">2</text>
<line x1="211.70" y1="262.15" x2="208.70" y2="262.15" stroke="#333" stroke-width="0.8"/>
<text x="206.20" y="265.85" font-size="10.3" text-anchor="end" fill="#2a2a2a">3</text>
<line x1="306.14" y1="352.40" x2="306.14" y2="355.40" stroke="#333" stroke-width="0.8"/>
<text x="309.84" y="360.90" font-size="10.3" text-anchor="middle" fill="#2a2a2a" transform="rotate(-90 309.84 360.90)">3</text>
<line x1="211.70" y1="226.05" x2="208.70" y2="226.05" stroke="#333" stroke-width="0.8"/>
<text x="206.20" y="229.75" font-size="10.3" text-anchor="end" fill="#2a2a2a">4</text>
<line x1="343.91" y1="352.40" x2="343.91" y2="355.40" stroke="#333" stroke-width="0.8"/>
<text x="347.61" y="360.90" font-size="10.3" text-anchor="middle" fill="#2a2a2a" transform="rotate(-90 347.61 360.90)">4</text>
<text x="291.00" y="377.80" font-size="10.8" text-anchor="middle" fill="#2a2a2a">Word Lines</text>
<text x="194.20" y="280.00" font-size="10.8" text-anchor="middle" fill="#2a2a2a" transform="rotate(-90 194.20 280.00)">Bit Lines</text>
<text x="180.80" y="222.00" font-size="17.5" text-anchor="start" fill="#111" font-weight="bold" style="stroke-width:0px">(e)</text>
<rect x="388.80" y="216.50" width="23.40" height="137.00" fill="url(#cbar)" stroke="none" stroke-width="1"/>
<line x1="412.20" y1="217.00" x2="415.00" y2="217.00" stroke="#333" stroke-width="0.8"/>
<text x="417.50" y="220.70" font-size="10.3" text-anchor="start" fill="#2a2a2a">3430</text>
<line x1="412.20" y1="244.20" x2="415.00" y2="244.20" stroke="#333" stroke-width="0.8"/>
<text x="417.50" y="247.90" font-size="10.3" text-anchor="start" fill="#2a2a2a">3030</text>
<line x1="412.20" y1="271.40" x2="415.00" y2="271.40" stroke="#333" stroke-width="0.8"/>
<text x="417.50" y="275.10" font-size="10.3" text-anchor="start" fill="#2a2a2a">2630</text>
<line x1="412.20" y1="298.60" x2="415.00" y2="298.60" stroke="#333" stroke-width="0.8"/>
<text x="417.50" y="302.30" font-size="10.3" text-anchor="start" fill="#2a2a2a">2230</text>
<line x1="412.20" y1="325.80" x2="415.00" y2="325.80" stroke="#333" stroke-width="0.8"/>
<text x="417.50" y="329.50" font-size="10.3" text-anchor="start" fill="#2a2a2a">1830</text>
<line x1="412.20" y1="353.00" x2="415.00" y2="353.00" stroke="#333" stroke-width="0.8"/>
<text x="417.50" y="356.70" font-size="10.3" text-anchor="start" fill="#2a2a2a">1430</text>
<text x="400.50" y="208.40" font-size="10.4" text-anchor="middle" fill="#2a2a2a">ON/OFF ratio</text>
<line x1="495.50" y1="298.40" x2="679.50" y2="298.40" stroke="#222" stroke-width="1.1"/>
<rect x="502.50" y="298.40" width="7.80" height="25.70" fill="#fcc98a" stroke="#444" stroke-width="0.7"/>
<rect x="513.30" y="298.40" width="7.80" height="37.64" fill="#fcc98a" stroke="#444" stroke-width="0.7"/>
<rect x="524.10" y="298.40" width="7.80" height="36.72" fill="#fcc98a" stroke="#444" stroke-width="0.7"/>
<rect x="534.90" y="298.40" width="7.80" height="43.15" fill="#fcc98a" stroke="#444" stroke-width="0.7"/>
<rect x="545.70" y="298.40" width="7.80" height="28.46" fill="#fcc98a" stroke="#444" stroke-width="0.7"/>
<rect x="556.50" y="298.40" width="7.80" height="31.21" fill="#fcc98a" stroke="#444" stroke-width="0.7"/>
<rect x="567.30" y="298.40" width="7.80" height="27.54" fill="#fcc98a" stroke="#444" stroke-width="0.7"/>
<rect x="578.10" y="298.40" width="7.80" height="37.64" fill="#fcc98a" stroke="#444" stroke-width="0.7"/>
<rect x="588.90" y="298.40" width="7.80" height="22.03" fill="#fcc98a" stroke="#444" stroke-width="0.7"/>
<rect x="610.50" y="298.40" width="7.80" height="33.05" fill="#fcc98a" stroke="#444" stroke-width="0.7"/>
<rect x="621.30" y="298.40" width="7.80" height="33.05" fill="#fcc98a" stroke="#444" stroke-width="0.7"/>
<rect x="642.90" y="298.40" width="7.80" height="31.21" fill="#fcc98a" stroke="#444" stroke-width="0.7"/>
<rect x="653.70" y="298.40" width="7.80" height="45.90" fill="#fcc98a" stroke="#444" stroke-width="0.7"/>
<rect x="664.50" y="298.40" width="7.80" height="29.38" fill="#fcc98a" stroke="#444" stroke-width="0.7"/>
<rect x="502.50" y="277.29" width="7.80" height="21.11" fill="#90d390" stroke="#444" stroke-width="0.7"/>
<rect x="524.10" y="236.89" width="7.80" height="61.51" fill="#90d390" stroke="#444" stroke-width="0.7"/>
<rect x="534.90" y="261.68" width="7.80" height="36.72" fill="#90d390" stroke="#444" stroke-width="0.7"/>
<rect x="545.70" y="281.88" width="7.80" height="16.52" fill="#90d390" stroke="#444" stroke-width="0.7"/>
<rect x="556.50" y="250.66" width="7.80" height="47.74" fill="#90d390" stroke="#444" stroke-width="0.7"/>
<rect x="567.30" y="226.80" width="7.80" height="71.60" fill="#90d390" stroke="#444" stroke-width="0.7"/>
<rect x="578.10" y="273.61" width="7.80" height="24.79" fill="#90d390" stroke="#444" stroke-width="0.7"/>
<rect x="588.90" y="265.35" width="7.80" height="33.05" fill="#90d390" stroke="#444" stroke-width="0.7"/>
<rect x="610.50" y="256.17" width="7.80" height="42.23" fill="#90d390" stroke="#444" stroke-width="0.7"/>
<rect x="621.30" y="230.47" width="7.80" height="67.93" fill="#90d390" stroke="#444" stroke-width="0.7"/>
<rect x="642.90" y="262.60" width="7.80" height="35.80" fill="#90d390" stroke="#444" stroke-width="0.7"/>
<rect x="653.70" y="252.50" width="7.80" height="45.90" fill="#90d390" stroke="#444" stroke-width="0.7"/>
<rect x="664.50" y="283.71" width="7.80" height="14.69" fill="#90d390" stroke="#444" stroke-width="0.7"/>
<line x1="495.50" y1="298.40" x2="679.50" y2="298.40" stroke="#222" stroke-width="1.1"/>
<line x1="495.60" y1="353.40" x2="495.60" y2="350.40" stroke="#5a5a5a" stroke-width="0.9"/>
<line x1="506.40" y1="353.40" x2="506.40" y2="351.60" stroke="#5a5a5a" stroke-width="0.7"/>
<line x1="517.20" y1="353.40" x2="517.20" y2="350.40" stroke="#5a5a5a" stroke-width="0.9"/>
<line x1="528.00" y1="353.40" x2="528.00" y2="351.60" stroke="#5a5a5a" stroke-width="0.7"/>
<line x1="538.80" y1="353.40" x2="538.80" y2="350.40" stroke="#5a5a5a" stroke-width="0.9"/>
<line x1="549.60" y1="353.40" x2="549.60" y2="351.60" stroke="#5a5a5a" stroke-width="0.7"/>
<line x1="560.40" y1="353.40" x2="560.40" y2="350.40" stroke="#5a5a5a" stroke-width="0.9"/>
<line x1="571.20" y1="353.40" x2="571.20" y2="351.60" stroke="#5a5a5a" stroke-width="0.7"/>
<line x1="582.00" y1="353.40" x2="582.00" y2="350.40" stroke="#5a5a5a" stroke-width="0.9"/>
<line x1="592.80" y1="353.40" x2="592.80" y2="351.60" stroke="#5a5a5a" stroke-width="0.7"/>
<line x1="603.60" y1="353.40" x2="603.60" y2="350.40" stroke="#5a5a5a" stroke-width="0.9"/>
<line x1="614.40" y1="353.40" x2="614.40" y2="351.60" stroke="#5a5a5a" stroke-width="0.7"/>
<line x1="625.20" y1="353.40" x2="625.20" y2="350.40" stroke="#5a5a5a" stroke-width="0.9"/>
<line x1="636.00" y1="353.40" x2="636.00" y2="351.60" stroke="#5a5a5a" stroke-width="0.7"/>
<line x1="646.80" y1="353.40" x2="646.80" y2="350.40" stroke="#5a5a5a" stroke-width="0.9"/>
<line x1="657.60" y1="353.40" x2="657.60" y2="351.60" stroke="#5a5a5a" stroke-width="0.7"/>
<line x1="668.40" y1="353.40" x2="668.40" y2="350.40" stroke="#5a5a5a" stroke-width="0.9"/>
<line x1="679.20" y1="353.40" x2="679.20" y2="351.60" stroke="#5a5a5a" stroke-width="0.7"/>
<line x1="495.50" y1="353.48" x2="498.50" y2="353.48" stroke="#5a5a5a" stroke-width="0.9"/>
<line x1="495.50" y1="344.30" x2="497.30" y2="344.30" stroke="#5a5a5a" stroke-width="0.7"/>
<line x1="495.50" y1="335.12" x2="498.50" y2="335.12" stroke="#5a5a5a" stroke-width="0.9"/>
<line x1="495.50" y1="325.94" x2="497.30" y2="325.94" stroke="#5a5a5a" stroke-width="0.7"/>
<line x1="495.50" y1="316.76" x2="498.50" y2="316.76" stroke="#5a5a5a" stroke-width="0.9"/>
<line x1="495.50" y1="307.58" x2="497.30" y2="307.58" stroke="#5a5a5a" stroke-width="0.7"/>
<line x1="495.50" y1="298.40" x2="498.50" y2="298.40" stroke="#5a5a5a" stroke-width="0.9"/>
<line x1="495.50" y1="289.22" x2="497.30" y2="289.22" stroke="#5a5a5a" stroke-width="0.7"/>
<line x1="495.50" y1="280.04" x2="498.50" y2="280.04" stroke="#5a5a5a" stroke-width="0.9"/>
<line x1="495.50" y1="270.86" x2="497.30" y2="270.86" stroke="#5a5a5a" stroke-width="0.7"/>
<line x1="495.50" y1="261.68" x2="498.50" y2="261.68" stroke="#5a5a5a" stroke-width="0.9"/>
<line x1="495.50" y1="252.50" x2="497.30" y2="252.50" stroke="#5a5a5a" stroke-width="0.7"/>
<line x1="495.50" y1="243.32" x2="498.50" y2="243.32" stroke="#5a5a5a" stroke-width="0.9"/>
<line x1="495.50" y1="234.14" x2="497.30" y2="234.14" stroke="#5a5a5a" stroke-width="0.7"/>
<line x1="495.50" y1="224.96" x2="498.50" y2="224.96" stroke="#5a5a5a" stroke-width="0.9"/>
<line x1="495.50" y1="215.78" x2="497.30" y2="215.78" stroke="#5a5a5a" stroke-width="0.7"/>
<line x1="495.50" y1="206.60" x2="498.50" y2="206.60" stroke="#5a5a5a" stroke-width="0.9"/>
<rect x="495.50" y="206.00" width="184.00" height="147.40" fill="none" stroke="#5a5a5a" stroke-width="1.4"/>
<text x="495.60" y="365.30" font-size="10.6" text-anchor="middle" fill="#2a2a2a">0</text>
<text x="517.20" y="365.30" font-size="10.6" text-anchor="middle" fill="#2a2a2a">2</text>
<text x="538.80" y="365.30" font-size="10.6" text-anchor="middle" fill="#2a2a2a">4</text>
<text x="560.40" y="365.30" font-size="10.6" text-anchor="middle" fill="#2a2a2a">6</text>
<text x="582.00" y="365.30" font-size="10.6" text-anchor="middle" fill="#2a2a2a">8</text>
<text x="603.60" y="365.30" font-size="10.6" text-anchor="middle" fill="#2a2a2a">10</text>
<text x="625.20" y="365.30" font-size="10.6" text-anchor="middle" fill="#2a2a2a">12</text>
<text x="646.80" y="365.30" font-size="10.6" text-anchor="middle" fill="#2a2a2a">14</text>
<text x="668.40" y="365.30" font-size="10.6" text-anchor="middle" fill="#2a2a2a">16</text>
<text x="492.20" y="357.28" font-size="10.6" text-anchor="end" fill="#2a2a2a">-0.6</text>
<text x="492.20" y="338.92" font-size="10.6" text-anchor="end" fill="#2a2a2a">-0.4</text>
<text x="492.20" y="320.56" font-size="10.6" text-anchor="end" fill="#2a2a2a">-0.2</text>
<text x="492.20" y="302.20" font-size="10.6" text-anchor="end" fill="#2a2a2a">0.0</text>
<text x="492.20" y="283.84" font-size="10.6" text-anchor="end" fill="#2a2a2a">0.2</text>
<text x="492.20" y="265.48" font-size="10.6" text-anchor="end" fill="#2a2a2a">0.4</text>
<text x="492.20" y="247.12" font-size="10.6" text-anchor="end" fill="#2a2a2a">0.6</text>
<text x="492.20" y="228.76" font-size="10.6" text-anchor="end" fill="#2a2a2a">0.8</text>
<text x="492.20" y="210.40" font-size="10.6" text-anchor="end" fill="#2a2a2a">1.0</text>
<text x="587.00" y="377.80" font-size="11" text-anchor="middle" fill="#2a2a2a">Device number</text>
<text x="470.90" y="279.00" font-size="10.8" text-anchor="middle" fill="#2a2a2a" transform="rotate(-90 470.90 279.00)">Voltage (V)</text>
<text x="453.20" y="220.10" font-size="17.5" text-anchor="start" fill="#111" font-weight="bold" style="stroke-width:0px">(f)</text>
<polygon points="517.20,290.90 518.04,293.14 520.43,293.25 518.56,294.74 519.20,297.05 517.20,295.73 515.20,297.05 515.84,294.74 513.97,293.25 516.36,293.14" fill="#111"/>
<polygon points="603.60,300.20 604.69,303.10 607.78,303.24 605.36,305.17 606.19,308.16 603.60,306.45 601.01,308.16 601.84,305.17 599.42,303.24 602.51,303.10" fill="#e01010"/>
<polygon points="636.00,300.20 637.09,303.10 640.18,303.24 637.76,305.17 638.59,308.16 636.00,306.45 633.41,308.16 634.24,305.17 631.82,303.24 634.91,303.10" fill="#e01010"/>
<polygon points="502.10,210.80 502.84,212.78 504.95,212.87 503.30,214.19 503.86,216.23 502.10,215.06 500.34,216.23 500.90,214.19 499.25,212.87 501.36,212.78" fill="#111"/>
<text x="507.20" y="216.20" font-size="7.9" text-anchor="start" fill="#2a2a2a" style="stroke-width:0.1px">Devices not able to RESET</text>
<polygon points="502.20,342.80 503.14,345.31 505.81,345.43 503.72,347.09 504.43,349.67 502.20,348.20 499.97,349.67 500.68,347.09 498.59,345.43 501.26,345.31" fill="#e01010"/>
<text x="507.80" y="349.20" font-size="7.9" text-anchor="start" fill="#2a2a2a" style="stroke-width:0.1px">Devices not able to Switch</text>
<rect x="631.00" y="205.80" width="48.50" height="25.30" fill="#fff" stroke="#777" stroke-width="0.7"/>
<rect x="632.90" y="208.00" width="17.90" height="8.40" fill="#fcc98a" stroke="#666" stroke-width="0.7"/>
<rect x="632.90" y="219.80" width="17.90" height="8.60" fill="#90d390" stroke="#666" stroke-width="0.7"/>
<text x="653.60" y="215.80" font-size="10.5" text-anchor="start" fill="#2a2a2a">V<tspan font-size="6.4" dy="2">SET</tspan></text>
<text x="653.60" y="227.60" font-size="10.5" text-anchor="start" fill="#2a2a2a">V<tspan font-size="6.4" dy="2">RESET</tspan></text>
</svg>
</body></html>
